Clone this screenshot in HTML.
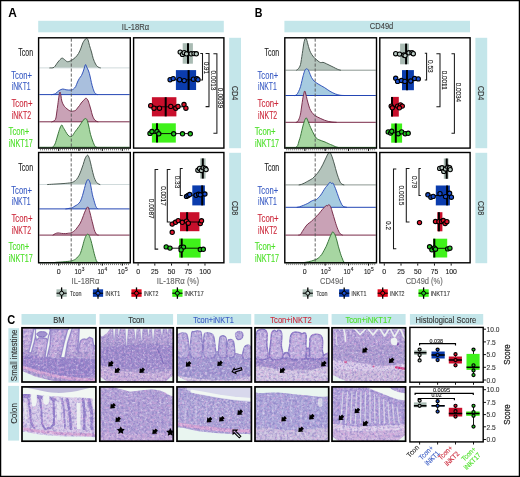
<!DOCTYPE html><html><head><meta charset="utf-8"><style>html,body{margin:0;padding:0;background:#fff;}svg{display:block;will-change:transform;}text{font-family:"Liberation Sans", sans-serif;}</style></head><body>
<svg width="520" height="477" viewBox="0 0 520 477">
<defs></defs>
<rect x="0" y="0" width="520" height="477" fill="#fff"/>
<rect x="38.2" y="20.8" width="185.6" height="11.5" fill="#c4e6ea"/>
<text x="121.8" y="29.5" font-size="8.8" fill="#444" text-anchor="start" font-weight="normal" textLength="27.3" lengthAdjust="spacingAndGlyphs" stroke="#444" stroke-width="0.12">IL-18R&#945;</text>
<text x="8.2" y="17.4" font-size="12.4" fill="#000" text-anchor="start" font-weight="bold" textLength="8.6" lengthAdjust="spacingAndGlyphs">A</text>
<rect x="229.2" y="37.8" width="11.8" height="110.4" fill="#c4e6ea"/>
<text x="235.1" y="93.2" font-size="8.6" fill="#333" text-anchor="middle" textLength="14.3" lengthAdjust="spacingAndGlyphs" transform="rotate(90 235.1 93.2)" dy="3" stroke="#333" stroke-width="0.12">CD4</text>
<text x="18.3" y="56" font-size="10.3" fill="#222" text-anchor="start" font-weight="normal" textLength="14.7" lengthAdjust="spacingAndGlyphs" stroke="#222" stroke-width="0.12">Tcon</text>
<text x="11.3" y="78.7" font-size="10.3" fill="#3a5cc4" text-anchor="start" font-weight="normal" textLength="20.6" lengthAdjust="spacingAndGlyphs" stroke="#3a5cc4" stroke-width="0.12">Tcon+</text>
<text x="11.7" y="90.2" font-size="10.3" fill="#3a5cc4" text-anchor="start" font-weight="normal" textLength="18.9" lengthAdjust="spacingAndGlyphs" stroke="#3a5cc4" stroke-width="0.12">iNKT1</text>
<text x="11.4" y="106.7" font-size="10.3" fill="#cc2a3c" text-anchor="start" font-weight="normal" textLength="21.1" lengthAdjust="spacingAndGlyphs" stroke="#cc2a3c" stroke-width="0.12">Tcon+</text>
<text x="11.8" y="118.7" font-size="10.3" fill="#cc2a3c" text-anchor="start" font-weight="normal" textLength="19.2" lengthAdjust="spacingAndGlyphs" stroke="#cc2a3c" stroke-width="0.12">iNKT2</text>
<text x="8.5" y="135" font-size="10.3" fill="#4ee02a" text-anchor="start" font-weight="normal" textLength="20.9" lengthAdjust="spacingAndGlyphs" stroke="#4ee02a" stroke-width="0.12">Tcon+</text>
<text x="8.7" y="147" font-size="10.3" fill="#4ee02a" text-anchor="start" font-weight="normal" textLength="24" lengthAdjust="spacingAndGlyphs" stroke="#4ee02a" stroke-width="0.12">iNKT17</text>
<rect x="229.2" y="152.8" width="11.8" height="110.4" fill="#c4e6ea"/>
<text x="235.1" y="208.2" font-size="8.6" fill="#333" text-anchor="middle" textLength="14.3" lengthAdjust="spacingAndGlyphs" transform="rotate(90 235.1 208.2)" dy="3" stroke="#333" stroke-width="0.12">CD8</text>
<text x="18.3" y="171" font-size="10.3" fill="#222" text-anchor="start" font-weight="normal" textLength="14.7" lengthAdjust="spacingAndGlyphs" stroke="#222" stroke-width="0.12">Tcon</text>
<text x="11.3" y="193.7" font-size="10.3" fill="#3a5cc4" text-anchor="start" font-weight="normal" textLength="20.6" lengthAdjust="spacingAndGlyphs" stroke="#3a5cc4" stroke-width="0.12">Tcon+</text>
<text x="11.7" y="205.2" font-size="10.3" fill="#3a5cc4" text-anchor="start" font-weight="normal" textLength="18.9" lengthAdjust="spacingAndGlyphs" stroke="#3a5cc4" stroke-width="0.12">iNKT1</text>
<text x="11.4" y="221.7" font-size="10.3" fill="#cc2a3c" text-anchor="start" font-weight="normal" textLength="21.1" lengthAdjust="spacingAndGlyphs" stroke="#cc2a3c" stroke-width="0.12">Tcon+</text>
<text x="11.8" y="233.7" font-size="10.3" fill="#cc2a3c" text-anchor="start" font-weight="normal" textLength="19.2" lengthAdjust="spacingAndGlyphs" stroke="#cc2a3c" stroke-width="0.12">iNKT2</text>
<text x="8.5" y="250" font-size="10.3" fill="#4ee02a" text-anchor="start" font-weight="normal" textLength="20.9" lengthAdjust="spacingAndGlyphs" stroke="#4ee02a" stroke-width="0.12">Tcon+</text>
<text x="8.7" y="262" font-size="10.3" fill="#4ee02a" text-anchor="start" font-weight="normal" textLength="24" lengthAdjust="spacingAndGlyphs" stroke="#4ee02a" stroke-width="0.12">iNKT17</text>
<rect x="284.4" y="20.8" width="185.6" height="11.5" fill="#c4e6ea"/>
<text x="369.8" y="29.4" font-size="8.8" fill="#444" text-anchor="start" font-weight="normal" textLength="23.5" lengthAdjust="spacingAndGlyphs" stroke="#444" stroke-width="0.12">CD49d</text>
<text x="254.7" y="17.4" font-size="12" fill="#000" text-anchor="start" font-weight="bold" textLength="7.7" lengthAdjust="spacingAndGlyphs">B</text>
<rect x="475.4" y="37.8" width="11.8" height="110.4" fill="#c4e6ea"/>
<text x="481.3" y="93.2" font-size="8.6" fill="#333" text-anchor="middle" textLength="14.3" lengthAdjust="spacingAndGlyphs" transform="rotate(90 481.3 93.2)" dy="3" stroke="#333" stroke-width="0.12">CD4</text>
<text x="264.5" y="56" font-size="10.3" fill="#222" text-anchor="start" font-weight="normal" textLength="14.7" lengthAdjust="spacingAndGlyphs" stroke="#222" stroke-width="0.12">Tcon</text>
<text x="257.5" y="78.7" font-size="10.3" fill="#3a5cc4" text-anchor="start" font-weight="normal" textLength="20.6" lengthAdjust="spacingAndGlyphs" stroke="#3a5cc4" stroke-width="0.12">Tcon+</text>
<text x="257.9" y="90.2" font-size="10.3" fill="#3a5cc4" text-anchor="start" font-weight="normal" textLength="18.9" lengthAdjust="spacingAndGlyphs" stroke="#3a5cc4" stroke-width="0.12">iNKT1</text>
<text x="257.6" y="106.7" font-size="10.3" fill="#cc2a3c" text-anchor="start" font-weight="normal" textLength="21.1" lengthAdjust="spacingAndGlyphs" stroke="#cc2a3c" stroke-width="0.12">Tcon+</text>
<text x="258" y="118.7" font-size="10.3" fill="#cc2a3c" text-anchor="start" font-weight="normal" textLength="19.2" lengthAdjust="spacingAndGlyphs" stroke="#cc2a3c" stroke-width="0.12">iNKT2</text>
<text x="254.7" y="135" font-size="10.3" fill="#4ee02a" text-anchor="start" font-weight="normal" textLength="20.9" lengthAdjust="spacingAndGlyphs" stroke="#4ee02a" stroke-width="0.12">Tcon+</text>
<text x="254.9" y="147" font-size="10.3" fill="#4ee02a" text-anchor="start" font-weight="normal" textLength="24" lengthAdjust="spacingAndGlyphs" stroke="#4ee02a" stroke-width="0.12">iNKT17</text>
<rect x="475.4" y="152.8" width="11.8" height="110.4" fill="#c4e6ea"/>
<text x="481.3" y="208.2" font-size="8.6" fill="#333" text-anchor="middle" textLength="14.3" lengthAdjust="spacingAndGlyphs" transform="rotate(90 481.3 208.2)" dy="3" stroke="#333" stroke-width="0.12">CD8</text>
<text x="264.5" y="171" font-size="10.3" fill="#222" text-anchor="start" font-weight="normal" textLength="14.7" lengthAdjust="spacingAndGlyphs" stroke="#222" stroke-width="0.12">Tcon</text>
<text x="257.5" y="193.7" font-size="10.3" fill="#3a5cc4" text-anchor="start" font-weight="normal" textLength="20.6" lengthAdjust="spacingAndGlyphs" stroke="#3a5cc4" stroke-width="0.12">Tcon+</text>
<text x="257.9" y="205.2" font-size="10.3" fill="#3a5cc4" text-anchor="start" font-weight="normal" textLength="18.9" lengthAdjust="spacingAndGlyphs" stroke="#3a5cc4" stroke-width="0.12">iNKT1</text>
<text x="257.6" y="221.7" font-size="10.3" fill="#cc2a3c" text-anchor="start" font-weight="normal" textLength="21.1" lengthAdjust="spacingAndGlyphs" stroke="#cc2a3c" stroke-width="0.12">Tcon+</text>
<text x="258" y="233.7" font-size="10.3" fill="#cc2a3c" text-anchor="start" font-weight="normal" textLength="19.2" lengthAdjust="spacingAndGlyphs" stroke="#cc2a3c" stroke-width="0.12">iNKT2</text>
<text x="254.7" y="250" font-size="10.3" fill="#4ee02a" text-anchor="start" font-weight="normal" textLength="20.9" lengthAdjust="spacingAndGlyphs" stroke="#4ee02a" stroke-width="0.12">Tcon+</text>
<text x="254.9" y="262" font-size="10.3" fill="#4ee02a" text-anchor="start" font-weight="normal" textLength="24" lengthAdjust="spacingAndGlyphs" stroke="#4ee02a" stroke-width="0.12">iNKT17</text>
<path d="M50 67.9 C50 67.9 49.33 68 50 67.9 C50.67 67.8 52.67 68.28 54 67.3 C55.33 66.32 56.7 63.52 58 62 C59.3 60.48 60.72 58.6 61.8 58.2 C62.88 57.8 63.57 59.02 64.5 59.6 C65.43 60.18 66.32 61.53 67.4 61.7 C68.48 61.87 69.73 61.25 71 60.6 C72.27 59.95 73.75 58.98 75 57.8 C76.25 56.62 77.5 55.13 78.5 53.5 C79.5 51.87 80.25 49.83 81 48 C81.75 46.17 82.13 44.1 83 42.5 C83.87 40.9 85.37 38.82 86.2 38.4 C87.03 37.98 87.45 38.82 88 40 C88.55 41.18 88.92 43.5 89.5 45.5 C90.08 47.5 90.88 49.83 91.5 52 C92.12 54.17 92.53 56.5 93.2 58.5 C93.87 60.5 94.73 62.6 95.5 64 C96.27 65.4 96.97 66.25 97.8 66.9 C98.63 67.55 100.05 67.73 100.5 67.9 C100.95 68.07 100.5 67.9 100.5 67.9 L50 67.9 Z" fill="#b4c4bc" stroke="none"/>
<line x1="39.3" y1="67.9" x2="129.6" y2="67.9" stroke="#d0dadb" stroke-width="1"/>
<path d="M50 67.9 C50 67.9 49.33 68 50 67.9 C50.67 67.8 52.67 68.28 54 67.3 C55.33 66.32 56.7 63.52 58 62 C59.3 60.48 60.72 58.6 61.8 58.2 C62.88 57.8 63.57 59.02 64.5 59.6 C65.43 60.18 66.32 61.53 67.4 61.7 C68.48 61.87 69.73 61.25 71 60.6 C72.27 59.95 73.75 58.98 75 57.8 C76.25 56.62 77.5 55.13 78.5 53.5 C79.5 51.87 80.25 49.83 81 48 C81.75 46.17 82.13 44.1 83 42.5 C83.87 40.9 85.37 38.82 86.2 38.4 C87.03 37.98 87.45 38.82 88 40 C88.55 41.18 88.92 43.5 89.5 45.5 C90.08 47.5 90.88 49.83 91.5 52 C92.12 54.17 92.53 56.5 93.2 58.5 C93.87 60.5 94.73 62.6 95.5 64 C96.27 65.4 96.97 66.25 97.8 66.9 C98.63 67.55 100.05 67.73 100.5 67.9 C100.95 68.07 100.5 67.9 100.5 67.9" fill="none" stroke="#3c4c44" stroke-width="0.9" stroke-linejoin="round"/>
<path d="M52 94.6 C52 94.6 51.42 94.77 52 94.6 C52.58 94.43 54.33 94.27 55.5 93.6 C56.67 92.93 57.78 91.37 59 90.6 C60.22 89.83 61.63 89.13 62.8 89 C63.97 88.87 64.63 89.63 66 89.8 C67.37 89.97 69.75 90.13 71 90 C72.25 89.87 72.72 89.58 73.5 89 C74.28 88.42 75.03 87.67 75.7 86.5 C76.37 85.33 76.88 83.35 77.5 82 C78.12 80.65 78.73 79.48 79.4 78.4 C80.07 77.32 80.9 76.57 81.5 75.5 C82.1 74.43 82.53 73.25 83 72 C83.47 70.75 83.88 69.23 84.3 68 C84.72 66.77 85.1 64.77 85.5 64.6 C85.9 64.43 86.18 65.93 86.7 67 C87.22 68.07 88.05 69.5 88.6 71 C89.15 72.5 89.53 74.08 90 76 C90.47 77.92 90.9 80.42 91.4 82.5 C91.9 84.58 92.4 86.72 93 88.5 C93.6 90.28 94.25 92.18 95 93.2 C95.75 94.22 97.08 94.37 97.5 94.6 C97.92 94.83 97.5 94.6 97.5 94.6 L52 94.6 Z" fill="#a9bfdd" stroke="none"/>
<line x1="39.3" y1="94.6" x2="129.6" y2="94.6" stroke="#2446b4" stroke-width="1"/>
<path d="M52 94.6 C52 94.6 51.42 94.77 52 94.6 C52.58 94.43 54.33 94.27 55.5 93.6 C56.67 92.93 57.78 91.37 59 90.6 C60.22 89.83 61.63 89.13 62.8 89 C63.97 88.87 64.63 89.63 66 89.8 C67.37 89.97 69.75 90.13 71 90 C72.25 89.87 72.72 89.58 73.5 89 C74.28 88.42 75.03 87.67 75.7 86.5 C76.37 85.33 76.88 83.35 77.5 82 C78.12 80.65 78.73 79.48 79.4 78.4 C80.07 77.32 80.9 76.57 81.5 75.5 C82.1 74.43 82.53 73.25 83 72 C83.47 70.75 83.88 69.23 84.3 68 C84.72 66.77 85.1 64.77 85.5 64.6 C85.9 64.43 86.18 65.93 86.7 67 C87.22 68.07 88.05 69.5 88.6 71 C89.15 72.5 89.53 74.08 90 76 C90.47 77.92 90.9 80.42 91.4 82.5 C91.9 84.58 92.4 86.72 93 88.5 C93.6 90.28 94.25 92.18 95 93.2 C95.75 94.22 97.08 94.37 97.5 94.6 C97.92 94.83 97.5 94.6 97.5 94.6" fill="none" stroke="#2446b4" stroke-width="0.9" stroke-linejoin="round"/>
<path d="M52 121.8 C52 121.8 51.43 122.18 52 121.8 C52.57 121.42 54.6 121.13 55.4 119.5 C56.2 117.87 56.4 114.45 56.8 112 C57.2 109.55 57.43 107.47 57.8 104.8 C58.17 102.13 58.63 98.13 59 96 C59.37 93.87 59.67 92 60 92 C60.33 92 60.7 94.5 61 96 C61.3 97.5 61.38 99.5 61.8 101 C62.22 102.5 62.88 103.92 63.5 105 C64.12 106.08 64.67 106.67 65.5 107.5 C66.33 108.33 67.58 109.38 68.5 110 C69.42 110.62 70.17 111.03 71 111.2 C71.83 111.37 72.72 111.15 73.5 111 C74.28 110.85 75.03 110.8 75.7 110.3 C76.37 109.8 76.88 108.77 77.5 108 C78.12 107.23 78.78 106.53 79.4 105.7 C80.02 104.87 80.6 103.78 81.2 103 C81.8 102.22 82.23 101.78 83 101 C83.77 100.22 85 98.47 85.8 98.3 C86.6 98.13 87.18 98.92 87.8 100 C88.42 101.08 88.97 103.13 89.5 104.8 C90.03 106.47 90.53 108.3 91 110 C91.47 111.7 91.8 113.5 92.3 115 C92.8 116.5 93.38 118 94 119 C94.62 120 95.33 120.53 96 121 C96.67 121.47 97.67 121.67 98 121.8 C98.33 121.93 98 121.8 98 121.8 L52 121.8 Z" fill="#c9a2b6" stroke="none"/>
<line x1="39.3" y1="121.8" x2="129.6" y2="121.8" stroke="#7a2a48" stroke-width="1"/>
<path d="M52 121.8 C52 121.8 51.43 122.18 52 121.8 C52.57 121.42 54.6 121.13 55.4 119.5 C56.2 117.87 56.4 114.45 56.8 112 C57.2 109.55 57.43 107.47 57.8 104.8 C58.17 102.13 58.63 98.13 59 96 C59.37 93.87 59.67 92 60 92 C60.33 92 60.7 94.5 61 96 C61.3 97.5 61.38 99.5 61.8 101 C62.22 102.5 62.88 103.92 63.5 105 C64.12 106.08 64.67 106.67 65.5 107.5 C66.33 108.33 67.58 109.38 68.5 110 C69.42 110.62 70.17 111.03 71 111.2 C71.83 111.37 72.72 111.15 73.5 111 C74.28 110.85 75.03 110.8 75.7 110.3 C76.37 109.8 76.88 108.77 77.5 108 C78.12 107.23 78.78 106.53 79.4 105.7 C80.02 104.87 80.6 103.78 81.2 103 C81.8 102.22 82.23 101.78 83 101 C83.77 100.22 85 98.47 85.8 98.3 C86.6 98.13 87.18 98.92 87.8 100 C88.42 101.08 88.97 103.13 89.5 104.8 C90.03 106.47 90.53 108.3 91 110 C91.47 111.7 91.8 113.5 92.3 115 C92.8 116.5 93.38 118 94 119 C94.62 120 95.33 120.53 96 121 C96.67 121.47 97.67 121.67 98 121.8 C98.33 121.93 98 121.8 98 121.8" fill="none" stroke="#6e1f3e" stroke-width="0.9" stroke-linejoin="round"/>
<path d="M52.5 147.3 C52.5 147.3 52.08 147.85 52.5 147.3 C52.92 146.75 54.17 145.88 55 144 C55.83 142.12 56.67 138.67 57.5 136 C58.33 133.33 59.28 129.83 60 128 C60.72 126.17 61.27 125.08 61.8 125 C62.33 124.92 62.73 126.72 63.2 127.5 C63.67 128.28 64 128.7 64.6 129.7 C65.2 130.7 66.03 132.42 66.8 133.5 C67.57 134.58 68.33 135.75 69.2 136.2 C70.07 136.65 71.12 136.82 72 136.2 C72.88 135.58 73.73 133.58 74.5 132.5 C75.27 131.42 75.85 130.7 76.6 129.7 C77.35 128.7 78.23 127.58 79 126.5 C79.77 125.42 80.45 124.28 81.2 123.2 C81.95 122.12 82.87 120.77 83.5 120 C84.13 119.23 84.45 118.68 85 118.6 C85.55 118.52 86.22 118.43 86.8 119.5 C87.38 120.57 87.88 122.53 88.5 125 C89.12 127.47 89.8 131.63 90.5 134.3 C91.2 136.97 91.95 139 92.7 141 C93.45 143 94.28 145.25 95 146.3 C95.72 147.35 96.67 147.13 97 147.3 C97.33 147.47 97 147.3 97 147.3 L52.5 147.3 Z" fill="#a7d6a2" stroke="none"/>
<line x1="39.3" y1="147.3" x2="129.6" y2="147.3" stroke="#2b6a2c" stroke-width="1"/>
<path d="M52.5 147.3 C52.5 147.3 52.08 147.85 52.5 147.3 C52.92 146.75 54.17 145.88 55 144 C55.83 142.12 56.67 138.67 57.5 136 C58.33 133.33 59.28 129.83 60 128 C60.72 126.17 61.27 125.08 61.8 125 C62.33 124.92 62.73 126.72 63.2 127.5 C63.67 128.28 64 128.7 64.6 129.7 C65.2 130.7 66.03 132.42 66.8 133.5 C67.57 134.58 68.33 135.75 69.2 136.2 C70.07 136.65 71.12 136.82 72 136.2 C72.88 135.58 73.73 133.58 74.5 132.5 C75.27 131.42 75.85 130.7 76.6 129.7 C77.35 128.7 78.23 127.58 79 126.5 C79.77 125.42 80.45 124.28 81.2 123.2 C81.95 122.12 82.87 120.77 83.5 120 C84.13 119.23 84.45 118.68 85 118.6 C85.55 118.52 86.22 118.43 86.8 119.5 C87.38 120.57 87.88 122.53 88.5 125 C89.12 127.47 89.8 131.63 90.5 134.3 C91.2 136.97 91.95 139 92.7 141 C93.45 143 94.28 145.25 95 146.3 C95.72 147.35 96.67 147.13 97 147.3 C97.33 147.47 97 147.3 97 147.3" fill="none" stroke="#2b6a2c" stroke-width="0.9" stroke-linejoin="round"/>
<line x1="71.3" y1="38.5" x2="71.3" y2="147.5" stroke="#555" stroke-width="0.9" stroke-dasharray="3.2 1.8"/>
<rect x="38.6" y="37.8" width="91.7" height="110.3" fill="none" stroke="#000" stroke-width="1.4"/>
<path d="M40.5 148.8v1.6M42.5 148.8v1.6M44.5 148.8v1.6M46.5 148.8v1.6M48.5 148.8v1.6M50.5 148.8v1.6M52.5 148.8v1.6M54.5 148.8v1.6M56.5 148.8v1.6M58.5 148.8v1.6M60.5 148.8v1.6M62.5 148.8v1.6M64.5 148.8v1.6M66.5 148.8v1.6M68.5 148.8v1.6M70.5 148.8v1.6M72.5 148.8v1.6M74.5 148.8v1.6M76.5 148.8v1.6M78.5 148.8v1.6M80.5 148.8v1.6M82.5 148.8v1.6M84.5 148.8v1.6M86.5 148.8v1.6M88.5 148.8v1.6M90.5 148.8v1.6M92.5 148.8v1.6M94.5 148.8v1.6M96.5 148.8v1.6M98.5 148.8v1.6M100.5 148.8v1.6M102.5 148.8v1.6M104.5 148.8v1.6M106.5 148.8v1.6M108.5 148.8v1.6M110.5 148.8v1.6M112.5 148.8v1.6M114.5 148.8v1.6M116.5 148.8v1.6M118.5 148.8v1.6M120.5 148.8v1.6M122.5 148.8v1.6M124.5 148.8v1.6M126.5 148.8v1.6M128.5 148.8v1.6" stroke="#333" stroke-width="0.6"/>
<line x1="58.7" y1="148.8" x2="58.7" y2="151" stroke="#000" stroke-width="0.9"/>
<line x1="79" y1="148.8" x2="79" y2="151" stroke="#000" stroke-width="0.9"/>
<line x1="102.3" y1="148.8" x2="102.3" y2="151" stroke="#000" stroke-width="0.9"/>
<line x1="122.3" y1="148.8" x2="122.3" y2="151" stroke="#000" stroke-width="0.9"/>
<path d="M48 184.5 C48 184.5 46.67 184.58 48 184.5 C49.33 184.42 53.33 184.17 56 184 C58.67 183.83 61.5 183.72 64 183.5 C66.5 183.28 69.33 183.03 71 182.7 C72.67 182.37 73.07 182.05 74 181.5 C74.93 180.95 75.77 180.4 76.6 179.4 C77.43 178.4 78.23 177.03 79 175.5 C79.77 173.97 80.5 172.03 81.2 170.2 C81.9 168.37 82.58 166.37 83.2 164.5 C83.82 162.63 84.35 160.42 84.9 159 C85.45 157.58 85.98 156.6 86.5 156 C87.02 155.4 87.47 154.82 88 155.4 C88.53 155.98 89.13 157.65 89.7 159.5 C90.27 161.35 90.88 164.33 91.4 166.5 C91.92 168.67 92.33 170.67 92.8 172.5 C93.27 174.33 93.67 176 94.2 177.5 C94.73 179 95.4 180.48 96 181.5 C96.6 182.52 97.13 183.1 97.8 183.6 C98.47 184.1 99.63 184.35 100 184.5 C100.37 184.65 100 184.5 100 184.5 L48 184.5 Z" fill="#b4c4bc" stroke="none"/>
<line x1="39.3" y1="184.5" x2="129.6" y2="184.5" stroke="#d0dadb" stroke-width="1"/>
<path d="M48 184.5 C48 184.5 46.67 184.58 48 184.5 C49.33 184.42 53.33 184.17 56 184 C58.67 183.83 61.5 183.72 64 183.5 C66.5 183.28 69.33 183.03 71 182.7 C72.67 182.37 73.07 182.05 74 181.5 C74.93 180.95 75.77 180.4 76.6 179.4 C77.43 178.4 78.23 177.03 79 175.5 C79.77 173.97 80.5 172.03 81.2 170.2 C81.9 168.37 82.58 166.37 83.2 164.5 C83.82 162.63 84.35 160.42 84.9 159 C85.45 157.58 85.98 156.6 86.5 156 C87.02 155.4 87.47 154.82 88 155.4 C88.53 155.98 89.13 157.65 89.7 159.5 C90.27 161.35 90.88 164.33 91.4 166.5 C91.92 168.67 92.33 170.67 92.8 172.5 C93.27 174.33 93.67 176 94.2 177.5 C94.73 179 95.4 180.48 96 181.5 C96.6 182.52 97.13 183.1 97.8 183.6 C98.47 184.1 99.63 184.35 100 184.5 C100.37 184.65 100 184.5 100 184.5" fill="none" stroke="#3c4c44" stroke-width="0.9" stroke-linejoin="round"/>
<path d="M66 208.9 C66 208.9 65.33 209.02 66 208.9 C66.67 208.78 68.92 208.43 70 208.2 C71.08 207.97 71.67 207.87 72.5 207.5 C73.33 207.13 74.17 206.5 75 206 C75.83 205.5 76.62 205.25 77.5 204.5 C78.38 203.75 79.47 203 80.3 201.5 C81.13 200 81.82 197.65 82.5 195.5 C83.18 193.35 83.82 190.68 84.4 188.6 C84.98 186.52 85.4 184.53 86 183 C86.6 181.47 87.35 179.53 88 179.4 C88.65 179.27 89.4 180.93 89.9 182.2 C90.4 183.47 90.6 185 91 187 C91.4 189 91.8 191.95 92.3 194.2 C92.8 196.45 93.38 198.42 94 200.5 C94.62 202.58 95.33 205.3 96 206.7 C96.67 208.1 97.67 208.53 98 208.9 C98.33 209.27 98 208.9 98 208.9 L66 208.9 Z" fill="#a9bfdd" stroke="none"/>
<line x1="39.3" y1="208.9" x2="129.6" y2="208.9" stroke="#2446b4" stroke-width="1"/>
<path d="M66 208.9 C66 208.9 65.33 209.02 66 208.9 C66.67 208.78 68.92 208.43 70 208.2 C71.08 207.97 71.67 207.87 72.5 207.5 C73.33 207.13 74.17 206.5 75 206 C75.83 205.5 76.62 205.25 77.5 204.5 C78.38 203.75 79.47 203 80.3 201.5 C81.13 200 81.82 197.65 82.5 195.5 C83.18 193.35 83.82 190.68 84.4 188.6 C84.98 186.52 85.4 184.53 86 183 C86.6 181.47 87.35 179.53 88 179.4 C88.65 179.27 89.4 180.93 89.9 182.2 C90.4 183.47 90.6 185 91 187 C91.4 189 91.8 191.95 92.3 194.2 C92.8 196.45 93.38 198.42 94 200.5 C94.62 202.58 95.33 205.3 96 206.7 C96.67 208.1 97.67 208.53 98 208.9 C98.33 209.27 98 208.9 98 208.9" fill="none" stroke="#2446b4" stroke-width="0.9" stroke-linejoin="round"/>
<path d="M53 235.1 C53 235.1 52.6 235.35 53 235.1 C53.4 234.85 54.53 233.97 55.4 233.6 C56.27 233.23 57.18 232.93 58.2 232.9 C59.22 232.87 60.28 233.28 61.5 233.4 C62.72 233.52 64.33 233.63 65.5 233.6 C66.67 233.57 67.58 233.32 68.5 233.2 C69.42 233.08 70.17 233.18 71 232.9 C71.83 232.62 72.72 232.07 73.5 231.5 C74.28 230.93 74.95 230.33 75.7 229.5 C76.45 228.67 77.23 227.57 78 226.5 C78.77 225.43 79.55 224.52 80.3 223.1 C81.05 221.68 81.82 219.7 82.5 218 C83.18 216.3 83.78 214.4 84.4 212.9 C85.02 211.4 85.6 209.98 86.2 209 C86.8 208.02 87.4 206.5 88 207 C88.6 207.5 89.23 210.08 89.8 212 C90.37 213.92 90.9 216.5 91.4 218.5 C91.9 220.5 92.33 222.17 92.8 224 C93.27 225.83 93.73 228 94.2 229.5 C94.67 231 95.13 232.13 95.6 233 C96.07 233.87 96.52 234.35 97 234.7 C97.48 235.05 98.25 235.03 98.5 235.1 C98.75 235.17 98.5 235.1 98.5 235.1 L53 235.1 Z" fill="#c9a2b6" stroke="none"/>
<line x1="39.3" y1="235.1" x2="129.6" y2="235.1" stroke="#7a2a48" stroke-width="1"/>
<path d="M53 235.1 C53 235.1 52.6 235.35 53 235.1 C53.4 234.85 54.53 233.97 55.4 233.6 C56.27 233.23 57.18 232.93 58.2 232.9 C59.22 232.87 60.28 233.28 61.5 233.4 C62.72 233.52 64.33 233.63 65.5 233.6 C66.67 233.57 67.58 233.32 68.5 233.2 C69.42 233.08 70.17 233.18 71 232.9 C71.83 232.62 72.72 232.07 73.5 231.5 C74.28 230.93 74.95 230.33 75.7 229.5 C76.45 228.67 77.23 227.57 78 226.5 C78.77 225.43 79.55 224.52 80.3 223.1 C81.05 221.68 81.82 219.7 82.5 218 C83.18 216.3 83.78 214.4 84.4 212.9 C85.02 211.4 85.6 209.98 86.2 209 C86.8 208.02 87.4 206.5 88 207 C88.6 207.5 89.23 210.08 89.8 212 C90.37 213.92 90.9 216.5 91.4 218.5 C91.9 220.5 92.33 222.17 92.8 224 C93.27 225.83 93.73 228 94.2 229.5 C94.67 231 95.13 232.13 95.6 233 C96.07 233.87 96.52 234.35 97 234.7 C97.48 235.05 98.25 235.03 98.5 235.1 C98.75 235.17 98.5 235.1 98.5 235.1" fill="none" stroke="#6e1f3e" stroke-width="0.9" stroke-linejoin="round"/>
<path d="M54 262.6 C54 262.6 53.47 262.67 54 262.6 C54.53 262.53 55.53 262.33 57.2 262.2 C58.87 262.07 61.7 262 64 261.8 C66.3 261.6 69.42 261.27 71 261 C72.58 260.73 72.72 260.53 73.5 260.2 C74.28 259.87 74.95 259.58 75.7 259 C76.45 258.42 77.23 257.62 78 256.7 C78.77 255.78 79.57 255.12 80.3 253.5 C81.03 251.88 81.72 249.3 82.4 247 C83.08 244.7 83.77 241.62 84.4 239.7 C85.03 237.78 85.6 236.42 86.2 235.5 C86.8 234.58 87.43 234.03 88 234.2 C88.57 234.37 89.1 235.43 89.6 236.5 C90.1 237.57 90.5 238.85 91 240.6 C91.5 242.35 92.07 244.85 92.6 247 C93.13 249.15 93.7 251.58 94.2 253.5 C94.7 255.42 95.15 257.12 95.6 258.5 C96.05 259.88 96.42 261.12 96.9 261.8 C97.38 262.48 98.23 262.47 98.5 262.6 C98.77 262.73 98.5 262.6 98.5 262.6 L54 262.6 Z" fill="#a7d6a2" stroke="none"/>
<line x1="39.3" y1="262.6" x2="129.6" y2="262.6" stroke="#2b6a2c" stroke-width="1"/>
<path d="M54 262.6 C54 262.6 53.47 262.67 54 262.6 C54.53 262.53 55.53 262.33 57.2 262.2 C58.87 262.07 61.7 262 64 261.8 C66.3 261.6 69.42 261.27 71 261 C72.58 260.73 72.72 260.53 73.5 260.2 C74.28 259.87 74.95 259.58 75.7 259 C76.45 258.42 77.23 257.62 78 256.7 C78.77 255.78 79.57 255.12 80.3 253.5 C81.03 251.88 81.72 249.3 82.4 247 C83.08 244.7 83.77 241.62 84.4 239.7 C85.03 237.78 85.6 236.42 86.2 235.5 C86.8 234.58 87.43 234.03 88 234.2 C88.57 234.37 89.1 235.43 89.6 236.5 C90.1 237.57 90.5 238.85 91 240.6 C91.5 242.35 92.07 244.85 92.6 247 C93.13 249.15 93.7 251.58 94.2 253.5 C94.7 255.42 95.15 257.12 95.6 258.5 C96.05 259.88 96.42 261.12 96.9 261.8 C97.38 262.48 98.23 262.47 98.5 262.6 C98.77 262.73 98.5 262.6 98.5 262.6" fill="none" stroke="#2b6a2c" stroke-width="0.9" stroke-linejoin="round"/>
<line x1="71.2" y1="153.3" x2="71.2" y2="262.8" stroke="#555" stroke-width="0.9" stroke-dasharray="3.2 1.8"/>
<rect x="38.6" y="152.5" width="91.7" height="110.3" fill="none" stroke="#000" stroke-width="1.4"/>
<path d="M40.5 263.5v1.6M42.5 263.5v1.6M44.5 263.5v1.6M46.5 263.5v1.6M48.5 263.5v1.6M50.5 263.5v1.6M52.5 263.5v1.6M54.5 263.5v1.6M56.5 263.5v1.6M58.5 263.5v1.6M60.5 263.5v1.6M62.5 263.5v1.6M64.5 263.5v1.6M66.5 263.5v1.6M68.5 263.5v1.6M70.5 263.5v1.6M72.5 263.5v1.6M74.5 263.5v1.6M76.5 263.5v1.6M78.5 263.5v1.6M80.5 263.5v1.6M82.5 263.5v1.6M84.5 263.5v1.6M86.5 263.5v1.6M88.5 263.5v1.6M90.5 263.5v1.6M92.5 263.5v1.6M94.5 263.5v1.6M96.5 263.5v1.6M98.5 263.5v1.6M100.5 263.5v1.6M102.5 263.5v1.6M104.5 263.5v1.6M106.5 263.5v1.6M108.5 263.5v1.6M110.5 263.5v1.6M112.5 263.5v1.6M114.5 263.5v1.6M116.5 263.5v1.6M118.5 263.5v1.6M120.5 263.5v1.6M122.5 263.5v1.6M124.5 263.5v1.6M126.5 263.5v1.6M128.5 263.5v1.6" stroke="#333" stroke-width="0.6"/>
<line x1="58.7" y1="263.5" x2="58.7" y2="265.7" stroke="#000" stroke-width="0.9"/>
<line x1="79" y1="263.5" x2="79" y2="265.7" stroke="#000" stroke-width="0.9"/>
<line x1="102.3" y1="263.5" x2="102.3" y2="265.7" stroke="#000" stroke-width="0.9"/>
<line x1="122.3" y1="263.5" x2="122.3" y2="265.7" stroke="#000" stroke-width="0.9"/>
<path d="M296.5 70.2 C296.5 70.2 296.17 70.48 296.5 70.2 C296.83 69.92 297.83 69.45 298.5 68.5 C299.17 67.55 299.87 67 300.5 64.5 C301.13 62 301.68 57.33 302.3 53.5 C302.92 49.67 303.58 44.03 304.2 41.5 C304.82 38.97 305.4 37.88 306 38.3 C306.6 38.72 307.27 42.22 307.8 44 C308.33 45.78 308.73 47.58 309.2 49 C309.67 50.42 310 51.33 310.6 52.5 C311.2 53.67 312.03 54.98 312.8 56 C313.57 57.02 314.33 57.77 315.2 58.6 C316.07 59.43 317.07 60.32 318 61 C318.93 61.68 319.97 62.48 320.8 62.7 C321.63 62.92 322.05 62.12 323 62.3 C323.95 62.48 325.33 63.27 326.5 63.8 C327.67 64.33 328.8 64.92 330 65.5 C331.2 66.08 332.47 66.68 333.7 67.3 C334.93 67.92 336.27 68.72 337.4 69.2 C338.53 69.68 339.98 70.03 340.5 70.2 C341.02 70.37 340.5 70.2 340.5 70.2 L296.5 70.2 Z" fill="#b4c4bc" stroke="none"/>
<line x1="285.5" y1="70.2" x2="375.8" y2="70.2" stroke="#8c9792" stroke-width="1"/>
<path d="M296.5 70.2 C296.5 70.2 296.17 70.48 296.5 70.2 C296.83 69.92 297.83 69.45 298.5 68.5 C299.17 67.55 299.87 67 300.5 64.5 C301.13 62 301.68 57.33 302.3 53.5 C302.92 49.67 303.58 44.03 304.2 41.5 C304.82 38.97 305.4 37.88 306 38.3 C306.6 38.72 307.27 42.22 307.8 44 C308.33 45.78 308.73 47.58 309.2 49 C309.67 50.42 310 51.33 310.6 52.5 C311.2 53.67 312.03 54.98 312.8 56 C313.57 57.02 314.33 57.77 315.2 58.6 C316.07 59.43 317.07 60.32 318 61 C318.93 61.68 319.97 62.48 320.8 62.7 C321.63 62.92 322.05 62.12 323 62.3 C323.95 62.48 325.33 63.27 326.5 63.8 C327.67 64.33 328.8 64.92 330 65.5 C331.2 66.08 332.47 66.68 333.7 67.3 C334.93 67.92 336.27 68.72 337.4 69.2 C338.53 69.68 339.98 70.03 340.5 70.2 C341.02 70.37 340.5 70.2 340.5 70.2" fill="none" stroke="#3c4c44" stroke-width="0.9" stroke-linejoin="round"/>
<path d="M295 95.5 C295 95.5 294.7 95.67 295 95.5 C295.3 95.33 296.2 95.17 296.8 94.5 C297.4 93.83 297.98 92.8 298.6 91.5 C299.22 90.2 299.93 88.53 300.5 86.7 C301.07 84.87 301.55 82.35 302 80.5 C302.45 78.65 302.7 77.33 303.2 75.6 C303.7 73.87 304.37 71.23 305 70.1 C305.63 68.97 306.37 68.65 307 68.8 C307.63 68.95 308.27 70.05 308.8 71 C309.33 71.95 309.75 73.42 310.2 74.5 C310.65 75.58 311 76.58 311.5 77.5 C312 78.42 312.58 79.25 313.2 80 C313.82 80.75 314.23 81.25 315.2 82 C316.17 82.75 317.45 83.57 319 84.5 C320.55 85.43 322.67 86.47 324.5 87.6 C326.33 88.73 328.17 90.23 330 91.3 C331.83 92.37 333.83 93.35 335.5 94 C337.17 94.65 338.58 94.95 340 95.2 C341.42 95.45 343.33 95.45 344 95.5 C344.67 95.55 344 95.5 344 95.5 L295 95.5 Z" fill="#a6cbe0" stroke="none"/>
<line x1="285.5" y1="95.5" x2="375.8" y2="95.5" stroke="#2446b4" stroke-width="1"/>
<path d="M295 95.5 C295 95.5 294.7 95.67 295 95.5 C295.3 95.33 296.2 95.17 296.8 94.5 C297.4 93.83 297.98 92.8 298.6 91.5 C299.22 90.2 299.93 88.53 300.5 86.7 C301.07 84.87 301.55 82.35 302 80.5 C302.45 78.65 302.7 77.33 303.2 75.6 C303.7 73.87 304.37 71.23 305 70.1 C305.63 68.97 306.37 68.65 307 68.8 C307.63 68.95 308.27 70.05 308.8 71 C309.33 71.95 309.75 73.42 310.2 74.5 C310.65 75.58 311 76.58 311.5 77.5 C312 78.42 312.58 79.25 313.2 80 C313.82 80.75 314.23 81.25 315.2 82 C316.17 82.75 317.45 83.57 319 84.5 C320.55 85.43 322.67 86.47 324.5 87.6 C326.33 88.73 328.17 90.23 330 91.3 C331.83 92.37 333.83 93.35 335.5 94 C337.17 94.65 338.58 94.95 340 95.2 C341.42 95.45 343.33 95.45 344 95.5 C344.67 95.55 344 95.5 344 95.5" fill="none" stroke="#2446b4" stroke-width="0.9" stroke-linejoin="round"/>
<path d="M296 122.3 C296 122.3 295.72 122.43 296 122.3 C296.28 122.17 297.17 122.13 297.7 121.5 C298.23 120.87 298.73 119.75 299.2 118.5 C299.67 117.25 300.08 116.08 300.5 114 C300.92 111.92 301.33 108.47 301.7 106 C302.07 103.53 302.35 101.28 302.7 99.2 C303.05 97.12 303.47 94.87 303.8 93.5 C304.13 92.13 304.37 90.92 304.7 91 C305.03 91.08 305.42 92.63 305.8 94 C306.18 95.37 306.58 97.53 307 99.2 C307.42 100.87 307.85 102.45 308.3 104 C308.75 105.55 309.12 107.12 309.7 108.5 C310.28 109.88 311.03 111.22 311.8 112.3 C312.57 113.38 313.35 114.22 314.3 115 C315.25 115.78 316.42 116.4 317.5 117 C318.58 117.6 319.63 118.07 320.8 118.6 C321.97 119.13 323.27 119.73 324.5 120.2 C325.73 120.67 326.95 121.1 328.2 121.4 C329.45 121.7 330.7 121.85 332 122 C333.3 122.15 335.33 122.25 336 122.3 C336.67 122.35 336 122.3 336 122.3 L296 122.3 Z" fill="#c9a2b6" stroke="none"/>
<line x1="285.5" y1="122.3" x2="375.8" y2="122.3" stroke="#7a2a48" stroke-width="1"/>
<path d="M296 122.3 C296 122.3 295.72 122.43 296 122.3 C296.28 122.17 297.17 122.13 297.7 121.5 C298.23 120.87 298.73 119.75 299.2 118.5 C299.67 117.25 300.08 116.08 300.5 114 C300.92 111.92 301.33 108.47 301.7 106 C302.07 103.53 302.35 101.28 302.7 99.2 C303.05 97.12 303.47 94.87 303.8 93.5 C304.13 92.13 304.37 90.92 304.7 91 C305.03 91.08 305.42 92.63 305.8 94 C306.18 95.37 306.58 97.53 307 99.2 C307.42 100.87 307.85 102.45 308.3 104 C308.75 105.55 309.12 107.12 309.7 108.5 C310.28 109.88 311.03 111.22 311.8 112.3 C312.57 113.38 313.35 114.22 314.3 115 C315.25 115.78 316.42 116.4 317.5 117 C318.58 117.6 319.63 118.07 320.8 118.6 C321.97 119.13 323.27 119.73 324.5 120.2 C325.73 120.67 326.95 121.1 328.2 121.4 C329.45 121.7 330.7 121.85 332 122 C333.3 122.15 335.33 122.25 336 122.3 C336.67 122.35 336 122.3 336 122.3" fill="none" stroke="#6e1f3e" stroke-width="0.9" stroke-linejoin="round"/>
<path d="M296 147.4 C296 147.4 295.72 147.72 296 147.4 C296.28 147.08 297.2 146.57 297.7 145.5 C298.2 144.43 298.53 142.55 299 141 C299.47 139.45 300.03 137.95 300.5 136.2 C300.97 134.45 301.35 132.37 301.8 130.5 C302.25 128.63 302.67 126.83 303.2 125 C303.73 123.17 304.45 120.67 305 119.5 C305.55 118.33 305.87 117.38 306.5 118 C307.13 118.62 308.12 121.62 308.8 123.2 C309.48 124.78 309.98 126.12 310.6 127.5 C311.22 128.88 311.88 130.25 312.5 131.5 C313.12 132.75 313.68 133.92 314.3 135 C314.92 136.08 315.45 137.22 316.2 138 C316.95 138.78 317.88 139.23 318.8 139.7 C319.72 140.17 320.67 140.42 321.7 140.8 C322.73 141.18 323.92 141.55 325 142 C326.08 142.45 327.28 143.08 328.2 143.5 C329.12 143.92 329.73 144.18 330.5 144.5 C331.27 144.82 332.05 145.07 332.8 145.4 C333.55 145.73 334.13 146.17 335 146.5 C335.87 146.83 337.5 147.25 338 147.4 C338.5 147.55 338 147.4 338 147.4 L296 147.4 Z" fill="#a7d6a2" stroke="none"/>
<line x1="285.5" y1="147.4" x2="375.8" y2="147.4" stroke="#2b6a2c" stroke-width="1"/>
<path d="M296 147.4 C296 147.4 295.72 147.72 296 147.4 C296.28 147.08 297.2 146.57 297.7 145.5 C298.2 144.43 298.53 142.55 299 141 C299.47 139.45 300.03 137.95 300.5 136.2 C300.97 134.45 301.35 132.37 301.8 130.5 C302.25 128.63 302.67 126.83 303.2 125 C303.73 123.17 304.45 120.67 305 119.5 C305.55 118.33 305.87 117.38 306.5 118 C307.13 118.62 308.12 121.62 308.8 123.2 C309.48 124.78 309.98 126.12 310.6 127.5 C311.22 128.88 311.88 130.25 312.5 131.5 C313.12 132.75 313.68 133.92 314.3 135 C314.92 136.08 315.45 137.22 316.2 138 C316.95 138.78 317.88 139.23 318.8 139.7 C319.72 140.17 320.67 140.42 321.7 140.8 C322.73 141.18 323.92 141.55 325 142 C326.08 142.45 327.28 143.08 328.2 143.5 C329.12 143.92 329.73 144.18 330.5 144.5 C331.27 144.82 332.05 145.07 332.8 145.4 C333.55 145.73 334.13 146.17 335 146.5 C335.87 146.83 337.5 147.25 338 147.4 C338.5 147.55 338 147.4 338 147.4" fill="none" stroke="#2b6a2c" stroke-width="0.9" stroke-linejoin="round"/>
<line x1="315.2" y1="38.5" x2="315.2" y2="147.5" stroke="#555" stroke-width="0.9" stroke-dasharray="3.2 1.8"/>
<rect x="284.8" y="37.8" width="91.7" height="110.3" fill="none" stroke="#000" stroke-width="1.4"/>
<path d="M286.7 148.8v1.6M288.7 148.8v1.6M290.7 148.8v1.6M292.7 148.8v1.6M294.7 148.8v1.6M296.7 148.8v1.6M298.7 148.8v1.6M300.7 148.8v1.6M302.7 148.8v1.6M304.7 148.8v1.6M306.7 148.8v1.6M308.7 148.8v1.6M310.7 148.8v1.6M312.7 148.8v1.6M314.7 148.8v1.6M316.7 148.8v1.6M318.7 148.8v1.6M320.7 148.8v1.6M322.7 148.8v1.6M324.7 148.8v1.6M326.7 148.8v1.6M328.7 148.8v1.6M330.7 148.8v1.6M332.7 148.8v1.6M334.7 148.8v1.6M336.7 148.8v1.6M338.7 148.8v1.6M340.7 148.8v1.6M342.7 148.8v1.6M344.7 148.8v1.6M346.7 148.8v1.6M348.7 148.8v1.6M350.7 148.8v1.6M352.7 148.8v1.6M354.7 148.8v1.6M356.7 148.8v1.6M358.7 148.8v1.6M360.7 148.8v1.6M362.7 148.8v1.6M364.7 148.8v1.6M366.7 148.8v1.6M368.7 148.8v1.6M370.7 148.8v1.6M372.7 148.8v1.6M374.7 148.8v1.6" stroke="#333" stroke-width="0.6"/>
<line x1="304.9" y1="148.8" x2="304.9" y2="151" stroke="#000" stroke-width="0.9"/>
<line x1="325.2" y1="148.8" x2="325.2" y2="151" stroke="#000" stroke-width="0.9"/>
<line x1="348.5" y1="148.8" x2="348.5" y2="151" stroke="#000" stroke-width="0.9"/>
<line x1="368.5" y1="148.8" x2="368.5" y2="151" stroke="#000" stroke-width="0.9"/>
<path d="M299 184.9 C299 184.9 298.6 184.98 299 184.9 C299.4 184.82 300.48 184.72 301.4 184.4 C302.32 184.08 303.43 183.53 304.5 183 C305.57 182.47 306.88 181.7 307.8 181.2 C308.72 180.7 309.22 180.45 310 180 C310.78 179.55 311.78 179.03 312.5 178.5 C313.22 177.97 313.68 177.42 314.3 176.8 C314.92 176.18 315.5 175.63 316.2 174.8 C316.9 173.97 317.73 172.88 318.5 171.8 C319.27 170.72 320.1 169.47 320.8 168.3 C321.5 167.13 322.08 166.02 322.7 164.8 C323.32 163.58 323.88 162.3 324.5 161 C325.12 159.7 325.78 158.25 326.4 157 C327.02 155.75 327.6 154.23 328.2 153.5 C328.8 152.77 329.47 152.35 330 152.6 C330.53 152.85 330.93 153.93 331.4 155 C331.87 156.07 332.27 157.33 332.8 159 C333.33 160.67 333.98 162.83 334.6 165 C335.22 167.17 335.88 169.92 336.5 172 C337.12 174.08 337.68 175.8 338.3 177.5 C338.92 179.2 339.58 181.08 340.2 182.2 C340.82 183.32 341.37 183.75 342 184.2 C342.63 184.65 343.67 184.78 344 184.9 C344.33 185.02 344 184.9 344 184.9 L299 184.9 Z" fill="#b4c4bc" stroke="none"/>
<line x1="285.5" y1="184.9" x2="375.8" y2="184.9" stroke="#8c9792" stroke-width="1"/>
<path d="M299 184.9 C299 184.9 298.6 184.98 299 184.9 C299.4 184.82 300.48 184.72 301.4 184.4 C302.32 184.08 303.43 183.53 304.5 183 C305.57 182.47 306.88 181.7 307.8 181.2 C308.72 180.7 309.22 180.45 310 180 C310.78 179.55 311.78 179.03 312.5 178.5 C313.22 177.97 313.68 177.42 314.3 176.8 C314.92 176.18 315.5 175.63 316.2 174.8 C316.9 173.97 317.73 172.88 318.5 171.8 C319.27 170.72 320.1 169.47 320.8 168.3 C321.5 167.13 322.08 166.02 322.7 164.8 C323.32 163.58 323.88 162.3 324.5 161 C325.12 159.7 325.78 158.25 326.4 157 C327.02 155.75 327.6 154.23 328.2 153.5 C328.8 152.77 329.47 152.35 330 152.6 C330.53 152.85 330.93 153.93 331.4 155 C331.87 156.07 332.27 157.33 332.8 159 C333.33 160.67 333.98 162.83 334.6 165 C335.22 167.17 335.88 169.92 336.5 172 C337.12 174.08 337.68 175.8 338.3 177.5 C338.92 179.2 339.58 181.08 340.2 182.2 C340.82 183.32 341.37 183.75 342 184.2 C342.63 184.65 343.67 184.78 344 184.9 C344.33 185.02 344 184.9 344 184.9" fill="none" stroke="#3c4c44" stroke-width="0.9" stroke-linejoin="round"/>
<path d="M297 207.3 C297 207.3 296.58 207.38 297 207.3 C297.42 207.22 298.42 207.13 299.5 206.8 C300.58 206.47 302.12 205.87 303.5 205.3 C304.88 204.73 306.72 203.95 307.8 203.4 C308.88 202.85 309.22 202.47 310 202 C310.78 201.53 311.77 200.93 312.5 200.6 C313.23 200.27 313.78 200.15 314.4 200 C315.02 199.85 315.52 200.12 316.2 199.7 C316.88 199.28 317.73 198.28 318.5 197.5 C319.27 196.72 320.05 196 320.8 195 C321.55 194 322.23 192.72 323 191.5 C323.77 190.28 324.62 188.78 325.4 187.7 C326.18 186.62 326.93 185.92 327.7 185 C328.47 184.08 329.38 182.45 330 182.2 C330.62 181.95 330.93 183.37 331.4 183.5 C331.87 183.63 332.33 182.67 332.8 183 C333.27 183.33 333.75 184.57 334.2 185.5 C334.65 186.43 334.98 187.27 335.5 188.6 C336.02 189.93 336.68 191.8 337.3 193.5 C337.92 195.2 338.58 197.22 339.2 198.8 C339.82 200.38 340.37 201.77 341 203 C341.63 204.23 342.07 205.48 343 206.2 C343.93 206.92 346 207.12 346.6 207.3 C347.2 207.48 346.6 207.3 346.6 207.3 L297 207.3 Z" fill="#a6cbe0" stroke="none"/>
<line x1="285.5" y1="207.3" x2="375.8" y2="207.3" stroke="#2446b4" stroke-width="1"/>
<path d="M297 207.3 C297 207.3 296.58 207.38 297 207.3 C297.42 207.22 298.42 207.13 299.5 206.8 C300.58 206.47 302.12 205.87 303.5 205.3 C304.88 204.73 306.72 203.95 307.8 203.4 C308.88 202.85 309.22 202.47 310 202 C310.78 201.53 311.77 200.93 312.5 200.6 C313.23 200.27 313.78 200.15 314.4 200 C315.02 199.85 315.52 200.12 316.2 199.7 C316.88 199.28 317.73 198.28 318.5 197.5 C319.27 196.72 320.05 196 320.8 195 C321.55 194 322.23 192.72 323 191.5 C323.77 190.28 324.62 188.78 325.4 187.7 C326.18 186.62 326.93 185.92 327.7 185 C328.47 184.08 329.38 182.45 330 182.2 C330.62 181.95 330.93 183.37 331.4 183.5 C331.87 183.63 332.33 182.67 332.8 183 C333.27 183.33 333.75 184.57 334.2 185.5 C334.65 186.43 334.98 187.27 335.5 188.6 C336.02 189.93 336.68 191.8 337.3 193.5 C337.92 195.2 338.58 197.22 339.2 198.8 C339.82 200.38 340.37 201.77 341 203 C341.63 204.23 342.07 205.48 343 206.2 C343.93 206.92 346 207.12 346.6 207.3 C347.2 207.48 346.6 207.3 346.6 207.3" fill="none" stroke="#2446b4" stroke-width="0.9" stroke-linejoin="round"/>
<path d="M298.5 235.1 C298.5 235.1 298.17 235.2 298.5 235.1 C298.83 235 299.87 235.1 300.5 234.5 C301.13 233.9 301.68 232.48 302.3 231.5 C302.92 230.52 303.58 229.52 304.2 228.6 C304.82 227.68 305.4 226.77 306 226 C306.6 225.23 307.18 224.57 307.8 224 C308.42 223.43 309.08 223.07 309.7 222.6 C310.32 222.13 310.9 221.72 311.5 221.2 C312.1 220.68 312.68 220.12 313.3 219.5 C313.92 218.88 314.58 218.12 315.2 217.5 C315.82 216.88 316.38 216.42 317 215.8 C317.62 215.18 318.28 214.52 318.9 213.8 C319.52 213.08 320.08 212.27 320.7 211.5 C321.32 210.73 321.98 209.92 322.6 209.2 C323.22 208.48 323.78 207.82 324.4 207.2 C325.02 206.58 325.75 205.73 326.3 205.5 C326.85 205.27 327.25 205.95 327.7 205.8 C328.15 205.65 328.47 204.33 329 204.6 C329.53 204.87 330.35 206.17 330.9 207.4 C331.45 208.63 331.83 210.47 332.3 212 C332.77 213.53 333.23 215.05 333.7 216.6 C334.17 218.15 334.63 219.77 335.1 221.3 C335.57 222.83 336.03 224.43 336.5 225.8 C336.97 227.17 337.45 228.42 337.9 229.5 C338.35 230.58 338.75 231.55 339.2 232.3 C339.65 233.05 340.05 233.53 340.6 234 C341.15 234.47 342.18 234.92 342.5 235.1 C342.82 235.28 342.5 235.1 342.5 235.1 L298.5 235.1 Z" fill="#c9a2b6" stroke="none"/>
<line x1="285.5" y1="235.1" x2="375.8" y2="235.1" stroke="#7a2a48" stroke-width="1"/>
<path d="M298.5 235.1 C298.5 235.1 298.17 235.2 298.5 235.1 C298.83 235 299.87 235.1 300.5 234.5 C301.13 233.9 301.68 232.48 302.3 231.5 C302.92 230.52 303.58 229.52 304.2 228.6 C304.82 227.68 305.4 226.77 306 226 C306.6 225.23 307.18 224.57 307.8 224 C308.42 223.43 309.08 223.07 309.7 222.6 C310.32 222.13 310.9 221.72 311.5 221.2 C312.1 220.68 312.68 220.12 313.3 219.5 C313.92 218.88 314.58 218.12 315.2 217.5 C315.82 216.88 316.38 216.42 317 215.8 C317.62 215.18 318.28 214.52 318.9 213.8 C319.52 213.08 320.08 212.27 320.7 211.5 C321.32 210.73 321.98 209.92 322.6 209.2 C323.22 208.48 323.78 207.82 324.4 207.2 C325.02 206.58 325.75 205.73 326.3 205.5 C326.85 205.27 327.25 205.95 327.7 205.8 C328.15 205.65 328.47 204.33 329 204.6 C329.53 204.87 330.35 206.17 330.9 207.4 C331.45 208.63 331.83 210.47 332.3 212 C332.77 213.53 333.23 215.05 333.7 216.6 C334.17 218.15 334.63 219.77 335.1 221.3 C335.57 222.83 336.03 224.43 336.5 225.8 C336.97 227.17 337.45 228.42 337.9 229.5 C338.35 230.58 338.75 231.55 339.2 232.3 C339.65 233.05 340.05 233.53 340.6 234 C341.15 234.47 342.18 234.92 342.5 235.1 C342.82 235.28 342.5 235.1 342.5 235.1" fill="none" stroke="#6e1f3e" stroke-width="0.9" stroke-linejoin="round"/>
<path d="M302 262.7 C302 262.7 301.5 262.75 302 262.7 C302.5 262.65 303.95 262.55 305 262.4 C306.05 262.25 307.22 262.03 308.3 261.8 C309.38 261.57 310.52 261.28 311.5 261 C312.48 260.72 313.28 260.43 314.2 260.1 C315.12 259.77 316.13 259.52 317 259 C317.87 258.48 318.62 257.75 319.4 257 C320.18 256.25 320.93 255.58 321.7 254.5 C322.47 253.42 323.23 251.88 324 250.5 C324.77 249.12 325.6 247.7 326.3 246.2 C327 244.7 327.58 243.05 328.2 241.5 C328.82 239.95 329.47 238.15 330 236.9 C330.53 235.65 330.93 234.85 331.4 234 C331.87 233.15 332.33 231.88 332.8 231.8 C333.27 231.72 333.75 232.8 334.2 233.5 C334.65 234.2 335.03 234.75 335.5 236 C335.97 237.25 336.53 239.3 337 241 C337.47 242.7 337.85 244.53 338.3 246.2 C338.75 247.87 339.23 249.47 339.7 251 C340.17 252.53 340.63 254.07 341.1 255.4 C341.57 256.73 342.05 257.9 342.5 259 C342.95 260.1 343.3 261.38 343.8 262 C344.3 262.62 345.22 262.58 345.5 262.7 C345.78 262.82 345.5 262.7 345.5 262.7 L302 262.7 Z" fill="#a7d6a2" stroke="none"/>
<line x1="285.5" y1="262.7" x2="375.8" y2="262.7" stroke="#2b6a2c" stroke-width="1"/>
<path d="M302 262.7 C302 262.7 301.5 262.75 302 262.7 C302.5 262.65 303.95 262.55 305 262.4 C306.05 262.25 307.22 262.03 308.3 261.8 C309.38 261.57 310.52 261.28 311.5 261 C312.48 260.72 313.28 260.43 314.2 260.1 C315.12 259.77 316.13 259.52 317 259 C317.87 258.48 318.62 257.75 319.4 257 C320.18 256.25 320.93 255.58 321.7 254.5 C322.47 253.42 323.23 251.88 324 250.5 C324.77 249.12 325.6 247.7 326.3 246.2 C327 244.7 327.58 243.05 328.2 241.5 C328.82 239.95 329.47 238.15 330 236.9 C330.53 235.65 330.93 234.85 331.4 234 C331.87 233.15 332.33 231.88 332.8 231.8 C333.27 231.72 333.75 232.8 334.2 233.5 C334.65 234.2 335.03 234.75 335.5 236 C335.97 237.25 336.53 239.3 337 241 C337.47 242.7 337.85 244.53 338.3 246.2 C338.75 247.87 339.23 249.47 339.7 251 C340.17 252.53 340.63 254.07 341.1 255.4 C341.57 256.73 342.05 257.9 342.5 259 C342.95 260.1 343.3 261.38 343.8 262 C344.3 262.62 345.22 262.58 345.5 262.7 C345.78 262.82 345.5 262.7 345.5 262.7" fill="none" stroke="#2b6a2c" stroke-width="0.9" stroke-linejoin="round"/>
<line x1="315.2" y1="153.3" x2="315.2" y2="262.8" stroke="#555" stroke-width="0.9" stroke-dasharray="3.2 1.8"/>
<rect x="284.8" y="152.5" width="91.7" height="110.3" fill="none" stroke="#000" stroke-width="1.4"/>
<path d="M286.7 263.5v1.6M288.7 263.5v1.6M290.7 263.5v1.6M292.7 263.5v1.6M294.7 263.5v1.6M296.7 263.5v1.6M298.7 263.5v1.6M300.7 263.5v1.6M302.7 263.5v1.6M304.7 263.5v1.6M306.7 263.5v1.6M308.7 263.5v1.6M310.7 263.5v1.6M312.7 263.5v1.6M314.7 263.5v1.6M316.7 263.5v1.6M318.7 263.5v1.6M320.7 263.5v1.6M322.7 263.5v1.6M324.7 263.5v1.6M326.7 263.5v1.6M328.7 263.5v1.6M330.7 263.5v1.6M332.7 263.5v1.6M334.7 263.5v1.6M336.7 263.5v1.6M338.7 263.5v1.6M340.7 263.5v1.6M342.7 263.5v1.6M344.7 263.5v1.6M346.7 263.5v1.6M348.7 263.5v1.6M350.7 263.5v1.6M352.7 263.5v1.6M354.7 263.5v1.6M356.7 263.5v1.6M358.7 263.5v1.6M360.7 263.5v1.6M362.7 263.5v1.6M364.7 263.5v1.6M366.7 263.5v1.6M368.7 263.5v1.6M370.7 263.5v1.6M372.7 263.5v1.6M374.7 263.5v1.6" stroke="#333" stroke-width="0.6"/>
<line x1="304.9" y1="263.5" x2="304.9" y2="265.7" stroke="#000" stroke-width="0.9"/>
<line x1="325.2" y1="263.5" x2="325.2" y2="265.7" stroke="#000" stroke-width="0.9"/>
<line x1="348.5" y1="263.5" x2="348.5" y2="265.7" stroke="#000" stroke-width="0.9"/>
<line x1="368.5" y1="263.5" x2="368.5" y2="265.7" stroke="#000" stroke-width="0.9"/>
<text x="58.6" y="274.2" font-size="7.3" fill="#222" text-anchor="middle" font-weight="normal" textLength="3.9" lengthAdjust="spacingAndGlyphs" stroke="#222" stroke-width="0.12">0</text>
<text x="74.6" y="274.2" font-size="7.3" fill="#222" text-anchor="start" font-weight="normal" textLength="6.9" lengthAdjust="spacingAndGlyphs" stroke="#222" stroke-width="0.12">10</text>
<text x="81.8" y="271.4" font-size="4.8" fill="#222" text-anchor="start" font-weight="normal" stroke="#222" stroke-width="0.12">3</text>
<text x="97.4" y="274.2" font-size="7.3" fill="#222" text-anchor="start" font-weight="normal" textLength="6.9" lengthAdjust="spacingAndGlyphs" stroke="#222" stroke-width="0.12">10</text>
<text x="104.6" y="271.4" font-size="4.8" fill="#222" text-anchor="start" font-weight="normal" stroke="#222" stroke-width="0.12">4</text>
<text x="117.7" y="274.2" font-size="7.3" fill="#222" text-anchor="start" font-weight="normal" textLength="6.9" lengthAdjust="spacingAndGlyphs" stroke="#222" stroke-width="0.12">10</text>
<text x="124.9" y="271.4" font-size="4.8" fill="#222" text-anchor="start" font-weight="normal" stroke="#222" stroke-width="0.12">5</text>
<text x="85.5" y="284" font-size="9.4" fill="#666" text-anchor="middle" font-weight="normal" textLength="28" lengthAdjust="spacingAndGlyphs" stroke="#666" stroke-width="0.12">IL-18R&#945;</text>
<text x="304.8" y="274.2" font-size="7.3" fill="#222" text-anchor="middle" font-weight="normal" textLength="3.9" lengthAdjust="spacingAndGlyphs" stroke="#222" stroke-width="0.12">0</text>
<text x="320.8" y="274.2" font-size="7.3" fill="#222" text-anchor="start" font-weight="normal" textLength="6.9" lengthAdjust="spacingAndGlyphs" stroke="#222" stroke-width="0.12">10</text>
<text x="328" y="271.4" font-size="4.8" fill="#222" text-anchor="start" font-weight="normal" stroke="#222" stroke-width="0.12">3</text>
<text x="343.6" y="274.2" font-size="7.3" fill="#222" text-anchor="start" font-weight="normal" textLength="6.9" lengthAdjust="spacingAndGlyphs" stroke="#222" stroke-width="0.12">10</text>
<text x="350.8" y="271.4" font-size="4.8" fill="#222" text-anchor="start" font-weight="normal" stroke="#222" stroke-width="0.12">4</text>
<text x="363.9" y="274.2" font-size="7.3" fill="#222" text-anchor="start" font-weight="normal" textLength="6.9" lengthAdjust="spacingAndGlyphs" stroke="#222" stroke-width="0.12">10</text>
<text x="371.1" y="271.4" font-size="4.8" fill="#222" text-anchor="start" font-weight="normal" stroke="#222" stroke-width="0.12">5</text>
<text x="331.7" y="284" font-size="9.4" fill="#666" text-anchor="middle" font-weight="normal" textLength="23.5" lengthAdjust="spacingAndGlyphs" stroke="#666" stroke-width="0.12">CD49d</text>
<rect x="182.7" y="43.2" width="10.2" height="20.5" fill="#a9bbb3"/>
<line x1="180.2" y1="53.5" x2="196.3" y2="53.5" stroke="#000" stroke-width="0.9"/>
<line x1="188" y1="43.2" x2="188" y2="63.7" stroke="#000" stroke-width="2"/>
<circle cx="180.2" cy="52.1" r="2.15" fill="#b9cbc3" stroke="#000" stroke-width="1.1"/>
<circle cx="182.5" cy="54.4" r="2.15" fill="#b9cbc3" stroke="#000" stroke-width="1.1"/>
<circle cx="184.2" cy="52.7" r="2.15" fill="#b9cbc3" stroke="#000" stroke-width="1.1"/>
<circle cx="186.5" cy="53.8" r="2.15" fill="#b9cbc3" stroke="#000" stroke-width="1.1"/>
<circle cx="191.1" cy="53.8" r="2.15" fill="#b9cbc3" stroke="#000" stroke-width="1.1"/>
<circle cx="194" cy="53.6" r="2.15" fill="#b9cbc3" stroke="#000" stroke-width="1.1"/>
<circle cx="196.3" cy="53.8" r="2.15" fill="#b9cbc3" stroke="#000" stroke-width="1.1"/>
<rect x="175.9" y="70.1" width="20.2" height="19.9" fill="#0b3cad"/>
<line x1="170.1" y1="79.8" x2="198" y2="79.8" stroke="#000" stroke-width="0.9"/>
<line x1="188.6" y1="70.1" x2="188.6" y2="90" stroke="#000" stroke-width="2"/>
<circle cx="170.1" cy="79.7" r="2.15" fill="#1a4fd0" stroke="#000" stroke-width="1.1"/>
<circle cx="173.2" cy="78.6" r="2.15" fill="#1a4fd0" stroke="#000" stroke-width="1.1"/>
<circle cx="179.6" cy="79.7" r="2.15" fill="#1a4fd0" stroke="#000" stroke-width="1.1"/>
<circle cx="184.2" cy="80.6" r="2.15" fill="#1a4fd0" stroke="#000" stroke-width="1.1"/>
<circle cx="193.4" cy="79.2" r="2.15" fill="#1a4fd0" stroke="#000" stroke-width="1.1"/>
<circle cx="196.9" cy="78.6" r="2.15" fill="#1a4fd0" stroke="#000" stroke-width="1.1"/>
<circle cx="198" cy="79.7" r="2.15" fill="#1a4fd0" stroke="#000" stroke-width="1.1"/>
<rect x="151.9" y="97.2" width="24.5" height="19.2" fill="#c80f2c"/>
<line x1="150.7" y1="106.8" x2="186" y2="106.8" stroke="#000" stroke-width="0.9"/>
<line x1="165.7" y1="97.2" x2="165.7" y2="116.4" stroke="#000" stroke-width="2"/>
<circle cx="150.7" cy="105.7" r="2.15" fill="#e0142c" stroke="#000" stroke-width="1.1"/>
<circle cx="154" cy="108.2" r="2.15" fill="#e0142c" stroke="#000" stroke-width="1.1"/>
<circle cx="159.5" cy="108.2" r="2.15" fill="#e0142c" stroke="#000" stroke-width="1.1"/>
<circle cx="170.8" cy="106.4" r="2.15" fill="#e0142c" stroke="#000" stroke-width="1.1"/>
<circle cx="175.8" cy="108.2" r="2.15" fill="#e0142c" stroke="#000" stroke-width="1.1"/>
<circle cx="178" cy="106.4" r="2.15" fill="#e0142c" stroke="#000" stroke-width="1.1"/>
<circle cx="184" cy="104.5" r="2.15" fill="#e0142c" stroke="#000" stroke-width="1.1"/>
<circle cx="185.9" cy="108.2" r="2.15" fill="#e0142c" stroke="#000" stroke-width="1.1"/>
<rect x="151.9" y="123.3" width="23.9" height="19.3" fill="#3ff21a"/>
<line x1="150" y1="133.6" x2="190.3" y2="133.6" stroke="#000" stroke-width="0.9"/>
<line x1="157" y1="123.3" x2="157" y2="142.6" stroke="#000" stroke-width="2"/>
<circle cx="150" cy="133.4" r="2.15" fill="#22c820" stroke="#000" stroke-width="1.1"/>
<circle cx="151.9" cy="131.5" r="2.15" fill="#22c820" stroke="#000" stroke-width="1.1"/>
<circle cx="157" cy="131.5" r="2.15" fill="#22c820" stroke="#000" stroke-width="1.1"/>
<circle cx="158.8" cy="133.8" r="2.15" fill="#22c820" stroke="#000" stroke-width="1.1"/>
<circle cx="173.7" cy="133.8" r="2.15" fill="#22c820" stroke="#000" stroke-width="1.1"/>
<circle cx="182.5" cy="133.8" r="2.15" fill="#22c820" stroke="#000" stroke-width="1.1"/>
<circle cx="190.3" cy="133.8" r="2.15" fill="#22c820" stroke="#000" stroke-width="1.1"/>
<path d="M200.3 53.4 H202.5 V79.9 H200.3" fill="none" stroke="#1a1a1a" stroke-width="1.05"/>
<text x="206" y="67.95" font-size="6.4" fill="#222" text-anchor="middle" textLength="11.9" lengthAdjust="spacingAndGlyphs" transform="rotate(90 206 67.95)" dy="2.2" stroke="#222" stroke-width="0.12">0.91</text>
<path d="M205.6 53.4 H209 V106.6 H205.6" fill="none" stroke="#1a1a1a" stroke-width="1.05"/>
<text x="212.9" y="80.45" font-size="6.4" fill="#222" text-anchor="middle" textLength="19.9" lengthAdjust="spacingAndGlyphs" transform="rotate(90 212.9 80.45)" dy="2.2" stroke="#222" stroke-width="0.12">0.0013</text>
<path d="M213.4 53.8 H216.9 V133.2 H213.4" fill="none" stroke="#1a1a1a" stroke-width="1.05"/>
<text x="220.5" y="98.05" font-size="6.4" fill="#222" text-anchor="middle" textLength="20.5" lengthAdjust="spacingAndGlyphs" transform="rotate(90 220.5 98.05)" dy="2.2" stroke="#222" stroke-width="0.12">0.0039</text>
<rect x="133.6" y="37.8" width="90.3" height="110.3" fill="none" stroke="#000" stroke-width="1.4"/>
<rect x="200.2" y="158.4" width="5.4" height="20.2" fill="#a9bbb3"/>
<line x1="197.9" y1="169" x2="206.1" y2="169" stroke="#000" stroke-width="0.9"/>
<line x1="202.8" y1="158.4" x2="202.8" y2="178.6" stroke="#000" stroke-width="2"/>
<circle cx="197.9" cy="170.2" r="2.15" fill="#b9cbc3" stroke="#000" stroke-width="1.1"/>
<circle cx="199.6" cy="168.4" r="2.15" fill="#b9cbc3" stroke="#000" stroke-width="1.1"/>
<circle cx="201.4" cy="170.5" r="2.15" fill="#b9cbc3" stroke="#000" stroke-width="1.1"/>
<circle cx="203.2" cy="167.8" r="2.15" fill="#b9cbc3" stroke="#000" stroke-width="1.1"/>
<circle cx="205.3" cy="168.4" r="2.15" fill="#b9cbc3" stroke="#000" stroke-width="1.1"/>
<circle cx="206.1" cy="169.6" r="2.15" fill="#b9cbc3" stroke="#000" stroke-width="1.1"/>
<rect x="192.3" y="185.4" width="12.6" height="20" fill="#0b3cad"/>
<line x1="186.5" y1="195.2" x2="204.9" y2="195.2" stroke="#000" stroke-width="0.9"/>
<line x1="202.2" y1="185.4" x2="202.2" y2="205.4" stroke="#000" stroke-width="2"/>
<circle cx="186.5" cy="196.4" r="2.15" fill="#1a4fd0" stroke="#000" stroke-width="1.1"/>
<circle cx="188.1" cy="195.4" r="2.15" fill="#1a4fd0" stroke="#000" stroke-width="1.1"/>
<circle cx="189.7" cy="194.5" r="2.15" fill="#1a4fd0" stroke="#000" stroke-width="1.1"/>
<circle cx="196.1" cy="195.2" r="2.15" fill="#1a4fd0" stroke="#000" stroke-width="1.1"/>
<circle cx="198.5" cy="194.3" r="2.15" fill="#1a4fd0" stroke="#000" stroke-width="1.1"/>
<circle cx="200.2" cy="194.8" r="2.15" fill="#1a4fd0" stroke="#000" stroke-width="1.1"/>
<circle cx="204.9" cy="194" r="2.15" fill="#1a4fd0" stroke="#000" stroke-width="1.1"/>
<rect x="180" y="212.2" width="19.4" height="19" fill="#c80f2c"/>
<line x1="172.2" y1="222" x2="201.5" y2="222" stroke="#000" stroke-width="0.9"/>
<line x1="187.1" y1="212.2" x2="187.1" y2="231.2" stroke="#000" stroke-width="2"/>
<circle cx="172.2" cy="224.1" r="2.15" fill="#e0142c" stroke="#000" stroke-width="1.1"/>
<circle cx="175.5" cy="222.3" r="2.15" fill="#e0142c" stroke="#000" stroke-width="1.1"/>
<circle cx="178.2" cy="220.6" r="2.15" fill="#e0142c" stroke="#000" stroke-width="1.1"/>
<circle cx="182.3" cy="222.3" r="2.15" fill="#e0142c" stroke="#000" stroke-width="1.1"/>
<circle cx="186.5" cy="221.1" r="2.15" fill="#e0142c" stroke="#000" stroke-width="1.1"/>
<circle cx="188.3" cy="223.2" r="2.15" fill="#e0142c" stroke="#000" stroke-width="1.1"/>
<circle cx="200.3" cy="223.5" r="2.15" fill="#e0142c" stroke="#000" stroke-width="1.1"/>
<circle cx="201.5" cy="220.8" r="2.15" fill="#e0142c" stroke="#000" stroke-width="1.1"/>
<circle cx="172.2" cy="232.3" r="2.15" fill="#e0142c" stroke="#000" stroke-width="1.1"/>
<rect x="179.1" y="238.6" width="21.5" height="19" fill="#3ff21a"/>
<line x1="166.2" y1="248.2" x2="203.3" y2="248.2" stroke="#000" stroke-width="0.9"/>
<line x1="181.7" y1="238.6" x2="181.7" y2="257.6" stroke="#000" stroke-width="2"/>
<circle cx="166.2" cy="246.9" r="2.15" fill="#22c820" stroke="#000" stroke-width="1.1"/>
<circle cx="170" cy="248.1" r="2.15" fill="#22c820" stroke="#000" stroke-width="1.1"/>
<circle cx="181.1" cy="247.5" r="2.15" fill="#22c820" stroke="#000" stroke-width="1.1"/>
<circle cx="183.5" cy="247.1" r="2.15" fill="#22c820" stroke="#000" stroke-width="1.1"/>
<circle cx="181.1" cy="249.9" r="2.15" fill="#22c820" stroke="#000" stroke-width="1.1"/>
<circle cx="200.3" cy="249.5" r="2.15" fill="#22c820" stroke="#000" stroke-width="1.1"/>
<circle cx="203.3" cy="249.3" r="2.15" fill="#22c820" stroke="#000" stroke-width="1.1"/>
<path d="M182.7 168.4 H180.3 V195.4 H182.7" fill="none" stroke="#1a1a1a" stroke-width="1.05"/>
<path d="M170.4 169.4 H167.3 V221.9 H170.4" fill="none" stroke="#1a1a1a" stroke-width="1.05"/>
<path d="M158.2 169.4 H155.1 V249.1 H158.2" fill="none" stroke="#1a1a1a" stroke-width="1.05"/>
<text x="177.2" y="182" font-size="6.4" fill="#222" text-anchor="middle" textLength="12.6" lengthAdjust="spacingAndGlyphs" transform="rotate(90 177.2 182)" dy="2.2" stroke="#222" stroke-width="0.12">0.33</text>
<text x="163" y="195.95" font-size="6.4" fill="#222" text-anchor="middle" textLength="19.5" lengthAdjust="spacingAndGlyphs" transform="rotate(90 163 195.95)" dy="2.2" stroke="#222" stroke-width="0.12">0.0017</text>
<text x="150.9" y="208.75" font-size="6.4" fill="#222" text-anchor="middle" textLength="19.9" lengthAdjust="spacingAndGlyphs" transform="rotate(90 150.9 208.75)" dy="2.2" stroke="#222" stroke-width="0.12">0.0087</text>
<rect x="133.6" y="152.5" width="90.3" height="110.3" fill="none" stroke="#000" stroke-width="1.4"/>
<rect x="400.1" y="43.6" width="8.8" height="20.7" fill="#a9bbb3"/>
<line x1="395.7" y1="53.8" x2="413.3" y2="53.8" stroke="#000" stroke-width="0.9"/>
<line x1="406.1" y1="43.6" x2="406.1" y2="64.3" stroke="#000" stroke-width="2"/>
<circle cx="395.7" cy="53.7" r="2.15" fill="#b9cbc3" stroke="#000" stroke-width="1.1"/>
<circle cx="399.5" cy="54.1" r="2.15" fill="#b9cbc3" stroke="#000" stroke-width="1.1"/>
<circle cx="403.9" cy="55" r="2.15" fill="#b9cbc3" stroke="#000" stroke-width="1.1"/>
<circle cx="405.1" cy="55.6" r="2.15" fill="#b9cbc3" stroke="#000" stroke-width="1.1"/>
<circle cx="408.9" cy="52.8" r="2.15" fill="#b9cbc3" stroke="#000" stroke-width="1.1"/>
<circle cx="412" cy="52.8" r="2.15" fill="#b9cbc3" stroke="#000" stroke-width="1.1"/>
<circle cx="413.3" cy="53.7" r="2.15" fill="#b9cbc3" stroke="#000" stroke-width="1.1"/>
<rect x="402" y="70.1" width="11.9" height="20.1" fill="#0b3cad"/>
<line x1="395.7" y1="80" x2="418.3" y2="80" stroke="#000" stroke-width="0.9"/>
<line x1="407" y1="70.1" x2="407" y2="90.2" stroke="#000" stroke-width="2"/>
<circle cx="395.7" cy="78.3" r="2.15" fill="#1a4fd0" stroke="#000" stroke-width="1.1"/>
<circle cx="397.6" cy="81.4" r="2.15" fill="#1a4fd0" stroke="#000" stroke-width="1.1"/>
<circle cx="401.4" cy="80.5" r="2.15" fill="#1a4fd0" stroke="#000" stroke-width="1.1"/>
<circle cx="404.9" cy="81.4" r="2.15" fill="#1a4fd0" stroke="#000" stroke-width="1.1"/>
<circle cx="410.8" cy="81" r="2.15" fill="#1a4fd0" stroke="#000" stroke-width="1.1"/>
<circle cx="414.6" cy="78.5" r="2.15" fill="#1a4fd0" stroke="#000" stroke-width="1.1"/>
<circle cx="418.3" cy="78.9" r="2.15" fill="#1a4fd0" stroke="#000" stroke-width="1.1"/>
<rect x="391.2" y="96.9" width="7.6" height="19.7" fill="#c80f2c"/>
<line x1="391.2" y1="106.4" x2="402.3" y2="106.4" stroke="#000" stroke-width="0.9"/>
<line x1="392" y1="96.9" x2="392" y2="116.6" stroke="#000" stroke-width="2"/>
<circle cx="391.2" cy="106.1" r="2.15" fill="#e0142c" stroke="#000" stroke-width="1.1"/>
<circle cx="392.3" cy="107.8" r="2.15" fill="#e0142c" stroke="#000" stroke-width="1.1"/>
<circle cx="397.6" cy="106.1" r="2.15" fill="#e0142c" stroke="#000" stroke-width="1.1"/>
<circle cx="400.5" cy="104.9" r="2.15" fill="#e0142c" stroke="#000" stroke-width="1.1"/>
<circle cx="402.3" cy="106.1" r="2.15" fill="#e0142c" stroke="#000" stroke-width="1.1"/>
<circle cx="399.4" cy="107.8" r="2.15" fill="#e0142c" stroke="#000" stroke-width="1.1"/>
<rect x="391.2" y="123.5" width="10.9" height="19.2" fill="#3ff21a"/>
<line x1="388.2" y1="132.8" x2="408.2" y2="132.8" stroke="#000" stroke-width="0.9"/>
<line x1="395.8" y1="123.5" x2="395.8" y2="142.7" stroke="#000" stroke-width="2"/>
<circle cx="388.2" cy="131.9" r="2.15" fill="#22c820" stroke="#000" stroke-width="1.1"/>
<circle cx="390.6" cy="133.1" r="2.15" fill="#22c820" stroke="#000" stroke-width="1.1"/>
<circle cx="391.7" cy="131.3" r="2.15" fill="#22c820" stroke="#000" stroke-width="1.1"/>
<circle cx="398.2" cy="133.7" r="2.15" fill="#22c820" stroke="#000" stroke-width="1.1"/>
<circle cx="401.7" cy="131.9" r="2.15" fill="#22c820" stroke="#000" stroke-width="1.1"/>
<circle cx="405.2" cy="133.7" r="2.15" fill="#22c820" stroke="#000" stroke-width="1.1"/>
<circle cx="408.2" cy="133.3" r="2.15" fill="#22c820" stroke="#000" stroke-width="1.1"/>
<path d="M424.8 53.3 H426.6 V80 H424.8" fill="none" stroke="#1a1a1a" stroke-width="1.05"/>
<text x="430.5" y="66.35" font-size="6.4" fill="#222" text-anchor="middle" textLength="12.7" lengthAdjust="spacingAndGlyphs" transform="rotate(90 430.5 66.35)" dy="2.2" stroke="#222" stroke-width="0.12">0.53</text>
<path d="M436.4 53.8 H440 V106.8 H436.4" fill="none" stroke="#1a1a1a" stroke-width="1.05"/>
<text x="444.2" y="80.25" font-size="6.4" fill="#222" text-anchor="middle" textLength="18.9" lengthAdjust="spacingAndGlyphs" transform="rotate(90 444.2 80.25)" dy="2.2" stroke="#222" stroke-width="0.12">0.0011</text>
<path d="M451.5 53.8 H454.4 V133.2 H451.5" fill="none" stroke="#1a1a1a" stroke-width="1.05"/>
<text x="457.8" y="92.35" font-size="6.4" fill="#222" text-anchor="middle" textLength="19.3" lengthAdjust="spacingAndGlyphs" transform="rotate(90 457.8 92.35)" dy="2.2" stroke="#222" stroke-width="0.12">0.0034</text>
<rect x="379.8" y="37.8" width="90.3" height="110.3" fill="none" stroke="#000" stroke-width="1.4"/>
<rect x="443.8" y="158.5" width="4.7" height="20.3" fill="#a9bbb3"/>
<line x1="439.7" y1="169" x2="450.2" y2="169" stroke="#000" stroke-width="0.9"/>
<line x1="446.7" y1="158.5" x2="446.7" y2="178.8" stroke="#000" stroke-width="2"/>
<circle cx="439.7" cy="168.4" r="2.15" fill="#b9cbc3" stroke="#000" stroke-width="1.1"/>
<circle cx="442" cy="167.8" r="2.15" fill="#b9cbc3" stroke="#000" stroke-width="1.1"/>
<circle cx="443.8" cy="171.4" r="2.15" fill="#b9cbc3" stroke="#000" stroke-width="1.1"/>
<circle cx="445.5" cy="169" r="2.15" fill="#b9cbc3" stroke="#000" stroke-width="1.1"/>
<circle cx="447.9" cy="167.3" r="2.15" fill="#b9cbc3" stroke="#000" stroke-width="1.1"/>
<circle cx="449.6" cy="167.8" r="2.15" fill="#b9cbc3" stroke="#000" stroke-width="1.1"/>
<circle cx="450.2" cy="169.6" r="2.15" fill="#b9cbc3" stroke="#000" stroke-width="1.1"/>
<rect x="435.8" y="185.5" width="14.1" height="19.9" fill="#0b3cad"/>
<line x1="427.9" y1="195.5" x2="451.4" y2="195.5" stroke="#000" stroke-width="0.9"/>
<line x1="447.1" y1="185.5" x2="447.1" y2="205.4" stroke="#000" stroke-width="2"/>
<circle cx="427.9" cy="194.8" r="2.15" fill="#1a4fd0" stroke="#000" stroke-width="1.1"/>
<circle cx="430.9" cy="197.2" r="2.15" fill="#1a4fd0" stroke="#000" stroke-width="1.1"/>
<circle cx="433.2" cy="196.4" r="2.15" fill="#1a4fd0" stroke="#000" stroke-width="1.1"/>
<circle cx="440" cy="193.7" r="2.15" fill="#1a4fd0" stroke="#000" stroke-width="1.1"/>
<circle cx="445.5" cy="196.6" r="2.15" fill="#1a4fd0" stroke="#000" stroke-width="1.1"/>
<circle cx="449.6" cy="193.3" r="2.15" fill="#1a4fd0" stroke="#000" stroke-width="1.1"/>
<circle cx="451.4" cy="197.2" r="2.15" fill="#1a4fd0" stroke="#000" stroke-width="1.1"/>
<rect x="437.3" y="212.2" width="5.1" height="19.1" fill="#c80f2c"/>
<line x1="435.5" y1="221.8" x2="446.9" y2="221.8" stroke="#000" stroke-width="0.9"/>
<line x1="438.9" y1="212.2" x2="438.9" y2="231.3" stroke="#000" stroke-width="2"/>
<circle cx="435.5" cy="221.5" r="2.15" fill="#e0142c" stroke="#000" stroke-width="1.1"/>
<circle cx="438.9" cy="221.7" r="2.15" fill="#e0142c" stroke="#000" stroke-width="1.1"/>
<circle cx="441.5" cy="221.5" r="2.15" fill="#e0142c" stroke="#000" stroke-width="1.1"/>
<circle cx="443.3" cy="220.5" r="2.15" fill="#e0142c" stroke="#000" stroke-width="1.1"/>
<circle cx="445.1" cy="223.5" r="2.15" fill="#e0142c" stroke="#000" stroke-width="1.1"/>
<circle cx="446.9" cy="221.7" r="2.15" fill="#e0142c" stroke="#000" stroke-width="1.1"/>
<circle cx="419.5" cy="222.6" r="2.15" fill="#e0142c" stroke="#000" stroke-width="1.1"/>
<rect x="433.1" y="238.7" width="14.1" height="18.8" fill="#3ff21a"/>
<line x1="429.6" y1="248.3" x2="449.9" y2="248.3" stroke="#000" stroke-width="0.9"/>
<line x1="434.3" y1="238.7" x2="434.3" y2="257.5" stroke="#000" stroke-width="2"/>
<circle cx="429.6" cy="246.8" r="2.15" fill="#22c820" stroke="#000" stroke-width="1.1"/>
<circle cx="431.9" cy="249.8" r="2.15" fill="#22c820" stroke="#000" stroke-width="1.1"/>
<circle cx="434.3" cy="248" r="2.15" fill="#22c820" stroke="#000" stroke-width="1.1"/>
<circle cx="435.5" cy="249.2" r="2.15" fill="#22c820" stroke="#000" stroke-width="1.1"/>
<circle cx="447.7" cy="248.9" r="2.15" fill="#22c820" stroke="#000" stroke-width="1.1"/>
<circle cx="449.9" cy="248.2" r="2.15" fill="#22c820" stroke="#000" stroke-width="1.1"/>
<path d="M420.8 168.5 H419.0 V195.5 H420.8" fill="none" stroke="#1a1a1a" stroke-width="1.05"/>
<path d="M409.5 168.5 H406.3 V221.9 H409.5" fill="none" stroke="#1a1a1a" stroke-width="1.05"/>
<path d="M396.3 169.0 H393.5 V248.7 H396.3" fill="none" stroke="#1a1a1a" stroke-width="1.05"/>
<text x="414.2" y="182.15" font-size="6.4" fill="#222" text-anchor="middle" textLength="12.3" lengthAdjust="spacingAndGlyphs" transform="rotate(90 414.2 182.15)" dy="2.2" stroke="#222" stroke-width="0.12">0.79</text>
<text x="401.6" y="195.4" font-size="6.4" fill="#222" text-anchor="middle" textLength="19.8" lengthAdjust="spacingAndGlyphs" transform="rotate(90 401.6 195.4)" dy="2.2" stroke="#222" stroke-width="0.12">0.0015</text>
<text x="387.8" y="225.55" font-size="6.4" fill="#222" text-anchor="middle" textLength="8.5" lengthAdjust="spacingAndGlyphs" transform="rotate(90 387.8 225.55)" dy="2.2" stroke="#222" stroke-width="0.12">0.2</text>
<rect x="379.8" y="152.5" width="90.3" height="110.3" fill="none" stroke="#000" stroke-width="1.4"/>
<line x1="138.1" y1="263.4" x2="138.1" y2="265.6" stroke="#000" stroke-width="0.9"/>
<text x="138.1" y="273.7" font-size="7.4" fill="#222" text-anchor="middle" font-weight="normal" textLength="3.9" lengthAdjust="spacingAndGlyphs" stroke="#222" stroke-width="0.12">0</text>
<line x1="154.82" y1="263.4" x2="154.82" y2="265.6" stroke="#000" stroke-width="0.9"/>
<text x="154.82" y="273.7" font-size="7.4" fill="#222" text-anchor="middle" font-weight="normal" textLength="7.6" lengthAdjust="spacingAndGlyphs" stroke="#222" stroke-width="0.12">25</text>
<line x1="171.54" y1="263.4" x2="171.54" y2="265.6" stroke="#000" stroke-width="0.9"/>
<text x="171.54" y="273.7" font-size="7.4" fill="#222" text-anchor="middle" font-weight="normal" textLength="7.6" lengthAdjust="spacingAndGlyphs" stroke="#222" stroke-width="0.12">50</text>
<line x1="188.26" y1="263.4" x2="188.26" y2="265.6" stroke="#000" stroke-width="0.9"/>
<text x="188.26" y="273.7" font-size="7.4" fill="#222" text-anchor="middle" font-weight="normal" textLength="7.6" lengthAdjust="spacingAndGlyphs" stroke="#222" stroke-width="0.12">75</text>
<line x1="204.98" y1="263.4" x2="204.98" y2="265.6" stroke="#000" stroke-width="0.9"/>
<text x="204.98" y="273.7" font-size="7.4" fill="#222" text-anchor="middle" font-weight="normal" textLength="11.6" lengthAdjust="spacingAndGlyphs" stroke="#222" stroke-width="0.12">100</text>
<text x="178" y="283.9" font-size="9.4" fill="#666" text-anchor="middle" font-weight="normal" textLength="42.3" lengthAdjust="spacingAndGlyphs" stroke="#666" stroke-width="0.12">IL-18R&#945; (%)</text>
<line x1="384.3" y1="263.4" x2="384.3" y2="265.6" stroke="#000" stroke-width="0.9"/>
<text x="384.3" y="273.7" font-size="7.4" fill="#222" text-anchor="middle" font-weight="normal" textLength="3.9" lengthAdjust="spacingAndGlyphs" stroke="#222" stroke-width="0.12">0</text>
<line x1="401.02" y1="263.4" x2="401.02" y2="265.6" stroke="#000" stroke-width="0.9"/>
<text x="401.02" y="273.7" font-size="7.4" fill="#222" text-anchor="middle" font-weight="normal" textLength="7.6" lengthAdjust="spacingAndGlyphs" stroke="#222" stroke-width="0.12">25</text>
<line x1="417.74" y1="263.4" x2="417.74" y2="265.6" stroke="#000" stroke-width="0.9"/>
<text x="417.74" y="273.7" font-size="7.4" fill="#222" text-anchor="middle" font-weight="normal" textLength="7.6" lengthAdjust="spacingAndGlyphs" stroke="#222" stroke-width="0.12">50</text>
<line x1="434.46" y1="263.4" x2="434.46" y2="265.6" stroke="#000" stroke-width="0.9"/>
<text x="434.46" y="273.7" font-size="7.4" fill="#222" text-anchor="middle" font-weight="normal" textLength="7.6" lengthAdjust="spacingAndGlyphs" stroke="#222" stroke-width="0.12">75</text>
<line x1="451.18" y1="263.4" x2="451.18" y2="265.6" stroke="#000" stroke-width="0.9"/>
<text x="451.18" y="273.7" font-size="7.4" fill="#222" text-anchor="middle" font-weight="normal" textLength="11.6" lengthAdjust="spacingAndGlyphs" stroke="#222" stroke-width="0.12">100</text>
<text x="424.2" y="283.9" font-size="9.4" fill="#666" text-anchor="middle" font-weight="normal" textLength="37" lengthAdjust="spacingAndGlyphs" stroke="#666" stroke-width="0.12">CD49d (%)</text>
<rect x="56.5" y="289.3" width="10.2" height="7.5" fill="#a9bbb3"/>
<line x1="61.6" y1="287.4" x2="61.6" y2="298.8" stroke="#000" stroke-width="1.3"/>
<line x1="56.5" y1="293.2" x2="66.7" y2="293.2" stroke="#000" stroke-width="1.1"/>
<circle cx="61.6" cy="293.2" r="2" fill="#b9cbc3" stroke="#000" stroke-width="1"/>
<text x="70" y="296" font-size="7.6" fill="#333" text-anchor="start" font-weight="normal" textLength="11.4" lengthAdjust="spacingAndGlyphs" stroke="#333" stroke-width="0.12">Tcon</text>
<rect x="92.9" y="289.3" width="10.2" height="7.5" fill="#0b3cad"/>
<line x1="98" y1="287.4" x2="98" y2="298.8" stroke="#000" stroke-width="1.3"/>
<line x1="92.9" y1="293.2" x2="103.1" y2="293.2" stroke="#000" stroke-width="1.1"/>
<circle cx="98" cy="293.2" r="2" fill="#1a4fd0" stroke="#000" stroke-width="1"/>
<text x="105.4" y="296" font-size="7.6" fill="#333" text-anchor="start" font-weight="normal" textLength="14.8" lengthAdjust="spacingAndGlyphs" stroke="#333" stroke-width="0.12">iNKT1</text>
<rect x="131.4" y="289.3" width="10.2" height="7.5" fill="#e3081c"/>
<line x1="136.5" y1="287.4" x2="136.5" y2="298.8" stroke="#000" stroke-width="1.3"/>
<line x1="131.4" y1="293.2" x2="141.6" y2="293.2" stroke="#000" stroke-width="1.1"/>
<circle cx="136.5" cy="293.2" r="2" fill="#e3081c" stroke="#000" stroke-width="1"/>
<text x="143.8" y="296" font-size="7.6" fill="#333" text-anchor="start" font-weight="normal" textLength="14.5" lengthAdjust="spacingAndGlyphs" stroke="#333" stroke-width="0.12">iNKT2</text>
<rect x="172.3" y="289.3" width="10.2" height="7.5" fill="#3ff21a"/>
<line x1="177.4" y1="287.4" x2="177.4" y2="298.8" stroke="#000" stroke-width="1.3"/>
<line x1="172.3" y1="293.2" x2="182.5" y2="293.2" stroke="#000" stroke-width="1.1"/>
<circle cx="177.4" cy="293.2" r="2" fill="#22c820" stroke="#000" stroke-width="1"/>
<text x="184.5" y="296" font-size="7.6" fill="#333" text-anchor="start" font-weight="normal" textLength="19.3" lengthAdjust="spacingAndGlyphs" stroke="#333" stroke-width="0.12">iNKT17</text>
<rect x="302.7" y="289.3" width="10.2" height="7.5" fill="#a9bbb3"/>
<line x1="307.8" y1="287.4" x2="307.8" y2="298.8" stroke="#000" stroke-width="1.3"/>
<line x1="302.7" y1="293.2" x2="312.9" y2="293.2" stroke="#000" stroke-width="1.1"/>
<circle cx="307.8" cy="293.2" r="2" fill="#b9cbc3" stroke="#000" stroke-width="1"/>
<text x="316.2" y="296" font-size="7.6" fill="#333" text-anchor="start" font-weight="normal" textLength="11.4" lengthAdjust="spacingAndGlyphs" stroke="#333" stroke-width="0.12">Tcon</text>
<rect x="339.1" y="289.3" width="10.2" height="7.5" fill="#0b3cad"/>
<line x1="344.2" y1="287.4" x2="344.2" y2="298.8" stroke="#000" stroke-width="1.3"/>
<line x1="339.1" y1="293.2" x2="349.3" y2="293.2" stroke="#000" stroke-width="1.1"/>
<circle cx="344.2" cy="293.2" r="2" fill="#1a4fd0" stroke="#000" stroke-width="1"/>
<text x="351.6" y="296" font-size="7.6" fill="#333" text-anchor="start" font-weight="normal" textLength="14.8" lengthAdjust="spacingAndGlyphs" stroke="#333" stroke-width="0.12">iNKT1</text>
<rect x="377.6" y="289.3" width="10.2" height="7.5" fill="#e3081c"/>
<line x1="382.7" y1="287.4" x2="382.7" y2="298.8" stroke="#000" stroke-width="1.3"/>
<line x1="377.6" y1="293.2" x2="387.8" y2="293.2" stroke="#000" stroke-width="1.1"/>
<circle cx="382.7" cy="293.2" r="2" fill="#e3081c" stroke="#000" stroke-width="1"/>
<text x="390" y="296" font-size="7.6" fill="#333" text-anchor="start" font-weight="normal" textLength="14.5" lengthAdjust="spacingAndGlyphs" stroke="#333" stroke-width="0.12">iNKT2</text>
<rect x="418.5" y="289.3" width="10.2" height="7.5" fill="#3ff21a"/>
<line x1="423.6" y1="287.4" x2="423.6" y2="298.8" stroke="#000" stroke-width="1.3"/>
<line x1="418.5" y1="293.2" x2="428.7" y2="293.2" stroke="#000" stroke-width="1.1"/>
<circle cx="423.6" cy="293.2" r="2" fill="#22c820" stroke="#000" stroke-width="1"/>
<text x="430.7" y="296" font-size="7.6" fill="#333" text-anchor="start" font-weight="normal" textLength="19.3" lengthAdjust="spacingAndGlyphs" stroke="#333" stroke-width="0.12">iNKT17</text>
<text x="7.3" y="323.6" font-size="12" fill="#000" text-anchor="start" font-weight="bold" textLength="8" lengthAdjust="spacingAndGlyphs">C</text>
<defs><filter id="bl" x="-5%" y="-5%" width="110%" height="110%"><feGaussianBlur stdDeviation="0.75"/></filter>
<filter id="tx0" x="0" y="0" width="100%" height="100%" color-interpolation-filters="sRGB"><feTurbulence type="fractalNoise" baseFrequency="0.42" numOctaves="2" seed="5" result="n"/><feColorMatrix in="n" type="matrix" values="0 0 0 0 0.97  0 0 0 0 0.93  0 0 0 0 1  3.2 0 0 0 -1.7" result="lt"/><feColorMatrix in="n" type="matrix" values="0 0 0 0 0.5  0 0 0 0 0.43  0 0 0 0 0.74  0 3.4 0 0 -1.5" result="dk"/><feColorMatrix in="n" type="matrix" values="0 0 0 0 0.88  0 0 0 0 0.64  0 0 0 0 0.87  0 0 3.2 0 -1.4" result="pk"/><feMerge><feMergeNode in="pk"/><feMergeNode in="dk"/><feMergeNode in="lt"/></feMerge><feGaussianBlur stdDeviation="0.35"/></filter>
<filter id="tx1" x="0" y="0" width="100%" height="100%" color-interpolation-filters="sRGB"><feTurbulence type="fractalNoise" baseFrequency="0.46" numOctaves="2" seed="11" result="n"/><feColorMatrix in="n" type="matrix" values="0 0 0 0 0.97  0 0 0 0 0.93  0 0 0 0 1  3.2 0 0 0 -1.7" result="lt"/><feColorMatrix in="n" type="matrix" values="0 0 0 0 0.5  0 0 0 0 0.43  0 0 0 0 0.74  0 3.4 0 0 -1.5" result="dk"/><feColorMatrix in="n" type="matrix" values="0 0 0 0 0.88  0 0 0 0 0.64  0 0 0 0 0.87  0 0 3.2 0 -1.4" result="pk"/><feMerge><feMergeNode in="pk"/><feMergeNode in="dk"/><feMergeNode in="lt"/></feMerge><feGaussianBlur stdDeviation="0.35"/></filter>
<filter id="tx2" x="0" y="0" width="100%" height="100%" color-interpolation-filters="sRGB"><feTurbulence type="fractalNoise" baseFrequency="0.4" numOctaves="2" seed="17" result="n"/><feColorMatrix in="n" type="matrix" values="0 0 0 0 0.97  0 0 0 0 0.93  0 0 0 0 1  3.2 0 0 0 -1.7" result="lt"/><feColorMatrix in="n" type="matrix" values="0 0 0 0 0.5  0 0 0 0 0.43  0 0 0 0 0.74  0 3.4 0 0 -1.5" result="dk"/><feColorMatrix in="n" type="matrix" values="0 0 0 0 0.88  0 0 0 0 0.64  0 0 0 0 0.87  0 0 3.2 0 -1.4" result="pk"/><feMerge><feMergeNode in="pk"/><feMergeNode in="dk"/><feMergeNode in="lt"/></feMerge><feGaussianBlur stdDeviation="0.35"/></filter>
</defs>
<rect x="21.5" y="314" width="74.4" height="10.7" fill="#c4e6ea"/>
<text x="53.2" y="322.5" font-size="9.8" fill="#333" textLength="11.4" lengthAdjust="spacingAndGlyphs" stroke="#333" stroke-width="0.12">BM</text>
<rect x="99.5" y="314" width="73.6" height="10.7" fill="#c4e6ea"/>
<text x="128.3" y="322.5" font-size="9.8" fill="#333" textLength="16.3" lengthAdjust="spacingAndGlyphs" stroke="#333" stroke-width="0.12">Tcon</text>
<rect x="177" y="314" width="74.2" height="10.7" fill="#c4e6ea"/>
<text x="193.2" y="322.5" font-size="9.8" fill="#3a5cc4" textLength="40.6" lengthAdjust="spacingAndGlyphs" stroke="#3a5cc4" stroke-width="0.12">Tcon+iNKT1</text>
<rect x="254.4" y="314" width="73.8" height="10.7" fill="#c4e6ea"/>
<text x="270.3" y="322.5" font-size="9.8" fill="#cc2a3c" textLength="41.5" lengthAdjust="spacingAndGlyphs" stroke="#cc2a3c" stroke-width="0.12">Tcon+iNKT2</text>
<rect x="331.6" y="314" width="74" height="10.7" fill="#c4e6ea"/>
<text x="345.4" y="322.5" font-size="9.8" fill="#4ee02a" textLength="46.1" lengthAdjust="spacingAndGlyphs" stroke="#4ee02a" stroke-width="0.12">Tcon+iNKT17</text>
<rect x="409.9" y="314" width="73.3" height="10.7" fill="#c4e6ea"/>
<text x="415.5" y="322.5" font-size="9.8" fill="#333" textLength="60.7" lengthAdjust="spacingAndGlyphs" stroke="#333" stroke-width="0.12">Histological Score</text>
<rect x="8.4" y="328.2" width="10.6" height="54.4" fill="#c4e6ea"/>
<text x="13.7" y="355.4" font-size="9.3" fill="#333" text-anchor="middle" textLength="51.5" lengthAdjust="spacingAndGlyphs" transform="rotate(-90 13.7 355.4)" dy="3.3" stroke="#333" stroke-width="0.12">Small intestine</text>
<rect x="8.1" y="385.9" width="11.0" height="54.7" fill="#c4e6ea"/>
<text x="13.6" y="413.5" font-size="9.3" fill="#333" text-anchor="middle" textLength="20.6" lengthAdjust="spacingAndGlyphs" transform="rotate(-90 13.6 413.5)" dy="3.3" stroke="#333" stroke-width="0.12">Colon</text>
<clipPath id="ci0"><rect x="22" y="327.8" width="73.9" height="54.2"/></clipPath>
<g clip-path="url(#ci0)">
<g filter="url(#bl)">
<rect x="22" y="327.8" width="73.9" height="54.2" fill="#aa9ecf" opacity="1"/>
<path d="M22 328 L96 328 L96 352 L22 350 Z" fill="#bcaede" opacity="0.7"/>
<path d="M22 355 C26.67 353.33 37.67 357.17 50 358 C62.33 358.83 88.33 357.17 96 360 C103.67 362.83 102 372.17 96 375 C90 377.83 72.33 378.17 60 377 C47.67 375.83 28.33 371.67 22 368 C15.67 364.33 17.33 356.67 22 355 Z" fill="#9080c8" opacity="0.85"/>
<path d="M21 366.6 L40 372.5 L60 377 L80 379.3 L97 380" fill="none" stroke="#d6a8d4" stroke-width="3" stroke-linecap="round" stroke-linejoin="round" opacity="1"/>
<path d="M27.5 333 L25.5 348" fill="none" stroke="#c9b6de" stroke-width="5" stroke-linecap="round" stroke-linejoin="round" opacity="0.75"/>
<path d="M41.5 343 L39.5 356" fill="none" stroke="#c9b6de" stroke-width="5.5" stroke-linecap="round" stroke-linejoin="round" opacity="0.75"/>
<path d="M58.5 333 L53.5 355" fill="none" stroke="#c9b6de" stroke-width="6" stroke-linecap="round" stroke-linejoin="round" opacity="0.75"/>
<path d="M75 332 L71 354" fill="none" stroke="#c9b6de" stroke-width="4.5" stroke-linecap="round" stroke-linejoin="round" opacity="0.75"/>
<path d="M82.6 344 L82 356" fill="none" stroke="#c9b6de" stroke-width="3.5" stroke-linecap="round" stroke-linejoin="round" opacity="0.7"/>
<path d="M89.5 343 L90 358" fill="none" stroke="#c9b6de" stroke-width="3" stroke-linecap="round" stroke-linejoin="round" opacity="0.6"/>
</g>
<rect x="22" y="327.8" width="73.9" height="54.2" fill="#000" filter="url(#tx0)" opacity="0.5"/>
<g filter="url(#bl)">
<path d="M33.8 329 L37.2 329 L34.2 342 L31.2 353 L28.6 352.5 L31.4 342 Z" fill="#f1f7f3" stroke="#8574c2" stroke-width="1.3" stroke-opacity="0.75" opacity="1"/>
<path d="M35.5 328.5 L50.5 328.5 L49.5 335 L48.2 340.5 L46.5 338.6 L43 337.6 L39 337.8 L36.6 340 L35.4 336 Z" fill="#f1f7f3" stroke="#8574c2" stroke-width="1.3" stroke-opacity="0.75" opacity="1"/>
<path d="M48.6 336 L51 330 L50 345 L47 357.5 L45 357.5 L46.8 345 Z" fill="#f1f7f3" stroke="#8574c2" stroke-width="1.3" stroke-opacity="0.75" opacity="1"/>
<path d="M68.2 327.5 L72.5 327.5 L67.5 343 L64.8 358 L60.6 357.5 L64 343 Z" fill="#f1f7f3" stroke="#8574c2" stroke-width="1.3" stroke-opacity="0.75" opacity="1"/>
<path d="M79.3 327.5 L96.5 327.5 L96.5 347 L93.6 345 L92.6 338.6 L89.5 337.2 L86.5 339.6 L84.5 339 L82.4 339.3 L80.3 341 L79.3 345 L78.3 352 L77.4 350 L78.6 340 Z" fill="#f1f7f3" stroke="#8574c2" stroke-width="1.3" stroke-opacity="0.75" opacity="1"/>
<path d="M50 327.5 L68.5 327.5 L68.5 329.3 L50 329.6 Z" fill="#f1f7f3" stroke="#8574c2" stroke-width="1.3" stroke-opacity="0.75" opacity="0.9"/>
<path d="M37 333.5 C37.42 332.88 38.67 332.05 40 331.8 C41.33 331.55 43.83 331.63 45 332 C46.17 332.37 47 333.28 47 334 C47 334.72 46.17 335.88 45 336.3 C43.83 336.72 41.25 336.63 40 336.5 C38.75 336.37 38 336 37.5 335.5 C37 335 36.58 334.12 37 333.5 Z" fill="#a293d0" stroke="#8574c2" stroke-width="1"/>
<path d="M21 370.5 L35 376.5 L50 380.2 L62 382.5 L21 382.5 Z" fill="#e9f5f0" opacity="1"/>
</g>
</g>
<rect x="22" y="327.8" width="73.9" height="54.2" fill="none" stroke="#000" stroke-width="1.7"/>
<clipPath id="ci1"><rect x="99.8" y="327.8" width="73.5" height="54.2"/></clipPath>
<g clip-path="url(#ci1)">
<g filter="url(#bl)">
<rect x="99.8" y="327.8" width="73.5" height="54.2" fill="#aa9ecf" opacity="1"/>
<path d="M100 328 L173 328 L173 342 L100 342 Z" fill="#b9abdb" opacity="0.55"/>
<path d="M100 348 C112.17 344.67 160.83 342.67 173 346 C185.17 349.33 185.17 364.67 173 368 C160.83 371.33 112.17 369.33 100 366 C87.83 362.67 87.83 351.33 100 348 Z" fill="#9080c8" opacity="0.55"/>
<path d="M100 366 C103.33 363.92 111.67 369.25 120 370.5 C128.33 371.75 141 373.42 150 373.5 C159 373.58 170 369.42 174 371 C178 372.58 186.33 381 174 383 C161.67 385 112.33 385.83 100 383 C87.67 380.17 96.67 368.08 100 366 Z" fill="#c8b4da" opacity="1"/>
<path d="M108 336 L107 364" fill="none" stroke="#8a7cc0" stroke-width="1.3" stroke-linecap="round" stroke-linejoin="round" opacity="0.45"/>
<path d="M117 338 L116.5 366" fill="none" stroke="#8a7cc0" stroke-width="1.3" stroke-linecap="round" stroke-linejoin="round" opacity="0.45"/>
<path d="M123 340 L123 367" fill="none" stroke="#8a7cc0" stroke-width="1.3" stroke-linecap="round" stroke-linejoin="round" opacity="0.45"/>
<path d="M131 338 L131.5 368" fill="none" stroke="#8a7cc0" stroke-width="1.3" stroke-linecap="round" stroke-linejoin="round" opacity="0.45"/>
<path d="M139 340 L139 368" fill="none" stroke="#8a7cc0" stroke-width="1.3" stroke-linecap="round" stroke-linejoin="round" opacity="0.45"/>
<path d="M146 339 L146.5 368" fill="none" stroke="#8a7cc0" stroke-width="1.3" stroke-linecap="round" stroke-linejoin="round" opacity="0.45"/>
<path d="M157.5 349 L163.5 363.5" fill="none" stroke="#6a5cb0" stroke-width="1.3" stroke-linecap="round" stroke-linejoin="round" opacity="0.7"/>
<path d="M168 339 L169 366" fill="none" stroke="#8a7cc0" stroke-width="1.3" stroke-linecap="round" stroke-linejoin="round" opacity="0.45"/>
</g>
<rect x="99.8" y="327.8" width="73.5" height="54.2" fill="#000" filter="url(#tx1)" opacity="0.5"/>
<g filter="url(#bl)">
<path d="M100 327 C101.42 325.5 108.08 326.33 109.5 327 C110.92 327.67 109.25 329.75 108.5 331 C107.75 332.25 106.25 333.67 105 334.5 C103.75 335.33 101.83 337.25 101 336 C100.17 334.75 98.58 328.5 100 327 Z" fill="#f1f7f3" opacity="0.95"/>
<path d="M112.8 327.5 L115.8 327.5 L114.4 340 L113.6 340 Z" fill="#f1f7f3" stroke="#8574c2" stroke-width="0.9" stroke-opacity="0.5" opacity="0.95"/>
<path d="M117.7 327.5 L120.3 327.5 L119 336 L118.2 336 Z" fill="#f1f7f3" stroke="#8574c2" stroke-width="0.9" stroke-opacity="0.5" opacity="0.95"/>
<path d="M125 327.5 L128.6 327.5 L126.9 346 L126.1 346 Z" fill="#f1f7f3" stroke="#8574c2" stroke-width="0.9" stroke-opacity="0.5" opacity="0.95"/>
<path d="M133.8 327.5 L137.2 327.5 L135.9 340 L135.1 340 Z" fill="#f1f7f3" stroke="#8574c2" stroke-width="0.9" stroke-opacity="0.5" opacity="0.95"/>
<path d="M139.8 327.5 L143.2 327.5 L141.7 341 L140.9 341 Z" fill="#f1f7f3" stroke="#8574c2" stroke-width="0.9" stroke-opacity="0.5" opacity="0.95"/>
<path d="M147.1 327.5 L149.9 327.5 L148.9 336 L148.1 336 Z" fill="#f1f7f3" stroke="#8574c2" stroke-width="0.9" stroke-opacity="0.5" opacity="0.95"/>
<path d="M151.5 327.5 L154.9 327.5 L153.4 341 L152.6 341 Z" fill="#f1f7f3" stroke="#8574c2" stroke-width="0.9" stroke-opacity="0.5" opacity="0.95"/>
<path d="M160.3 327.5 L163.3 327.5 L162.4 336 L161.6 336 Z" fill="#f1f7f3" stroke="#8574c2" stroke-width="0.9" stroke-opacity="0.5" opacity="0.95"/>
<path d="M166.3 327.5 L168.7 327.5 L168.4 334 L167.6 334 Z" fill="#f1f7f3" stroke="#8574c2" stroke-width="0.9" stroke-opacity="0.5" opacity="0.95"/>
<rect x="100" y="327.5" width="74" height="1.8" fill="#f1f7f3" opacity="0.6"/>
<path d="M99 376.5 C99.83 375.92 102.33 378.42 104 379.5 C105.67 380.58 109.83 382.42 109 383 C108.17 383.58 100.67 384.08 99 383 C97.33 381.92 98.17 377.08 99 376.5 Z" fill="#e9f5f0" opacity="1"/>
<path d="M165 383 C165 381.75 172.5 375.5 174 375.5 C175.5 375.5 175.5 381.75 174 383 C172.5 384.25 165 384.25 165 383 Z" fill="#e9f5f0" opacity="1"/>
</g>
<path d="M108.2 366.4 L108.69 361.24 L109.96 362.52 L111.66 360.82 L113.78 362.94 L112.08 364.64 L113.36 365.91 Z" fill="#000"/>
<path d="M114.7 373.1 L115.19 367.94 L116.46 369.22 L118.16 367.52 L120.28 369.64 L118.58 371.34 L119.86 372.61 Z" fill="#000"/>
<path d="M139.4 373.1 L139.89 367.94 L141.16 369.22 L142.86 367.52 L144.98 369.64 L143.28 371.34 L144.56 372.61 Z" fill="#000"/>
</g>
<rect x="99.8" y="327.8" width="73.5" height="54.2" fill="none" stroke="#000" stroke-width="1.7"/>
<clipPath id="ci2"><rect x="177" y="327.8" width="74.4" height="54.2"/></clipPath>
<g clip-path="url(#ci2)">
<g filter="url(#bl)">
<rect x="177" y="327.8" width="74.4" height="54.2" fill="#a6a3d3" opacity="1"/>
<path d="M177 352 L252 352 L252 376 L177 376 Z" fill="#9c98d0" opacity="0.55"/>
<path d="M177 376.5 C180.83 375.83 191.17 378.42 200 379 C208.83 379.58 221.33 380.5 230 380 C238.67 379.5 248.33 375.5 252 376 C255.67 376.5 264.5 381.83 252 383 C239.5 384.17 189.5 384.08 177 383 C164.5 381.92 173.17 377.17 177 376.5 Z" fill="#d6cce4" opacity="1"/>
<path d="M177 356 C175.08 352.83 176.5 340.75 177 337 C177.5 333.25 178.83 334.17 180 333.5 C181.17 332.83 182.75 332.58 184 333 C185.25 333.42 186.75 332.17 187.5 336 C188.25 339.83 190.25 352.67 188.5 356 C186.75 359.33 178.92 359.17 177 356 Z" fill="#b8b0dc" stroke="#8a80c6" stroke-width="1.5"/>
<path d="M191 356 C189.28 352.33 191 338.08 191.5 334 C192 329.92 192.75 332 194 331.5 C195.25 331 197.75 330.58 199 331 C200.25 331.42 201.03 329.83 201.5 334 C201.97 338.17 203.55 352.33 201.8 356 C200.05 359.67 192.72 359.67 191 356 Z" fill="#b8b0dc" stroke="#8a80c6" stroke-width="1.5"/>
<path d="M204 356 C202.17 352.67 203.67 339.83 204 336 C204.33 332.17 204.83 333.42 206 333 C207.17 332.58 209.67 332.83 211 333.5 C212.33 334.17 213.33 333.25 214 337 C214.67 340.75 216.67 352.83 215 356 C213.33 359.17 205.83 359.33 204 356 Z" fill="#b8b0dc" stroke="#8a80c6" stroke-width="1.5"/>
<path d="M219 356 C217.78 353.17 219.08 342.33 219.5 339 C219.92 335.67 220.58 336.42 221.5 336 C222.42 335.58 224.17 335.83 225 336.5 C225.83 337.17 226.2 336.75 226.5 340 C226.8 343.25 228.05 353.33 226.8 356 C225.55 358.67 220.22 358.83 219 356 Z" fill="#b8b0dc" stroke="#8a80c6" stroke-width="1.5"/>
<path d="M227.2 356 C226.03 353.67 227.12 344.75 227.5 342 C227.88 339.25 228.67 339.83 229.5 339.5 C230.33 339.17 231.75 339.42 232.5 340 C233.25 340.58 233.67 340.33 234 343 C234.33 345.67 235.63 353.83 234.5 356 C233.37 358.17 228.37 358.33 227.2 356 Z" fill="#b8b0dc" stroke="#8a80c6" stroke-width="1.5"/>
<path d="M235.5 334 C235.67 332.75 237 331.83 238 331.5 C239 331.17 240.67 331.33 241.5 332 C242.33 332.67 243.08 334.33 243 335.5 C242.92 336.67 242 338.42 241 339 C240 339.58 237.92 339.83 237 339 C236.08 338.17 235.33 335.25 235.5 334 Z" fill="#b8b0dc" stroke="#8a80c6" stroke-width="1.5"/>
<path d="M243 358 C241.67 356.33 243.33 350.17 244 348 C244.67 345.83 246 345.33 247 345 C248 344.67 249.17 345.17 250 346 C250.83 346.83 251.67 348 252 350 C252.33 352 253.5 356.67 252 358 C250.5 359.33 244.33 359.67 243 358 Z" fill="#b8b0dc" stroke="#8a80c6" stroke-width="1.5"/>
</g>
<rect x="177" y="327.8" width="74.4" height="54.2" fill="#000" filter="url(#tx2)" opacity="0.5"/>
<g filter="url(#bl)">
<mask id="mk_i1" maskUnits="userSpaceOnUse" x="0" y="0" width="520" height="477"><path d="M177 327 L252 327 L252 357 L235 353 L215 351 L200 350 L188 349 L177 347 Z" fill="#fff"/><path d="M177 356 C175.08 352.83 176.5 340.75 177 337 C177.5 333.25 178.83 334.17 180 333.5 C181.17 332.83 182.75 332.58 184 333 C185.25 333.42 186.75 332.17 187.5 336 C188.25 339.83 190.25 352.67 188.5 356 C186.75 359.33 178.92 359.17 177 356 Z" fill="#000" stroke="#000" stroke-width="1.2"/><path d="M191 356 C189.28 352.33 191 338.08 191.5 334 C192 329.92 192.75 332 194 331.5 C195.25 331 197.75 330.58 199 331 C200.25 331.42 201.03 329.83 201.5 334 C201.97 338.17 203.55 352.33 201.8 356 C200.05 359.67 192.72 359.67 191 356 Z" fill="#000" stroke="#000" stroke-width="1.2"/><path d="M204 356 C202.17 352.67 203.67 339.83 204 336 C204.33 332.17 204.83 333.42 206 333 C207.17 332.58 209.67 332.83 211 333.5 C212.33 334.17 213.33 333.25 214 337 C214.67 340.75 216.67 352.83 215 356 C213.33 359.17 205.83 359.33 204 356 Z" fill="#000" stroke="#000" stroke-width="1.2"/><path d="M219 356 C217.78 353.17 219.08 342.33 219.5 339 C219.92 335.67 220.58 336.42 221.5 336 C222.42 335.58 224.17 335.83 225 336.5 C225.83 337.17 226.2 336.75 226.5 340 C226.8 343.25 228.05 353.33 226.8 356 C225.55 358.67 220.22 358.83 219 356 Z" fill="#000" stroke="#000" stroke-width="1.2"/><path d="M227.2 356 C226.03 353.67 227.12 344.75 227.5 342 C227.88 339.25 228.67 339.83 229.5 339.5 C230.33 339.17 231.75 339.42 232.5 340 C233.25 340.58 233.67 340.33 234 343 C234.33 345.67 235.63 353.83 234.5 356 C233.37 358.17 228.37 358.33 227.2 356 Z" fill="#000" stroke="#000" stroke-width="1.2"/><path d="M235.5 334 C235.67 332.75 237 331.83 238 331.5 C239 331.17 240.67 331.33 241.5 332 C242.33 332.67 243.08 334.33 243 335.5 C242.92 336.67 242 338.42 241 339 C240 339.58 237.92 339.83 237 339 C236.08 338.17 235.33 335.25 235.5 334 Z" fill="#000" stroke="#000" stroke-width="1.2"/><path d="M243 358 C241.67 356.33 243.33 350.17 244 348 C244.67 345.83 246 345.33 247 345 C248 344.67 249.17 345.17 250 346 C250.83 346.83 251.67 348 252 350 C252.33 352 253.5 356.67 252 358 C250.5 359.33 244.33 359.67 243 358 Z" fill="#000" stroke="#000" stroke-width="1.2"/></mask><path d="M177 327 L252 327 L252 357 L235 353 L215 351 L200 350 L188 349 L177 347 Z" fill="#f1f7f3" opacity="1" mask="url(#mk_i1)"/>
<path d="M176 376 C177.33 375.42 181.83 378.33 184 379.5 C186.17 380.67 190.33 382.42 189 383 C187.67 383.58 178.17 384.17 176 383 C173.83 381.83 174.67 376.58 176 376 Z" fill="#e9f5f0" opacity="1"/>
</g>
<path d="M185.8 366.7 L186.29 361.54 L187.56 362.82 L189.26 361.12 L191.38 363.24 L189.68 364.94 L190.96 366.21 Z" fill="#000"/>
<path d="M217.3 366.1 L217.79 360.94 L219.06 362.22 L220.76 360.52 L222.88 362.64 L221.18 364.34 L222.46 365.61 Z" fill="#000"/>
<path d="M232.14 371.85 L234.13 368.26 L234.66 369.87 L241.32 367.71 L242 369.8 L235.34 371.96 L235.86 373.58 Z" fill="none" stroke="#000" stroke-width="1.1"/>
</g>
<rect x="177" y="327.8" width="74.4" height="54.2" fill="none" stroke="#000" stroke-width="1.7"/>
<clipPath id="ci3"><rect x="255" y="327.8" width="73.7" height="54.2"/></clipPath>
<g clip-path="url(#ci3)">
<g filter="url(#bl)">
<rect x="255" y="327.8" width="73.7" height="54.2" fill="#aa9ecf" opacity="1"/>
<path d="M255 352 L329 352 L329 369 L255 369 Z" fill="#9c8ecc" opacity="0.7"/>
<path d="M255 367 C259.17 364.75 271.67 368.92 280 369.5 C288.33 370.08 296.83 370.83 305 370.5 C313.17 370.17 325 365.42 329 367.5 C333 369.58 341.33 380.42 329 383 C316.67 385.58 267.33 385.67 255 383 C242.67 380.33 250.83 369.25 255 367 Z" fill="#d3cbe3" opacity="1"/>
<path d="M255 358 C252.98 355 255.25 344.33 255.5 340 C255.75 335.67 255.75 333.78 256.5 332 C257.25 330.22 258.67 329.7 260 329.3 C261.33 328.9 263.3 328.98 264.5 329.6 C265.7 330.22 266.78 330.43 267.2 333 C267.62 335.57 266.93 340.83 267 345 C267.07 349.17 269.6 355.83 267.6 358 C265.6 360.17 257.02 361 255 358 Z" fill="#c0b4df" stroke="#8374c2" stroke-width="1.8"/>
<path d="M270.2 358 C268.17 355 270.58 344.17 270.8 340 C271.02 335.83 270.97 334.63 271.5 333 C272.03 331.37 273.17 330.45 274 330.2 C274.83 329.95 275.83 331.5 276.5 331.5 C277.17 331.5 277.25 330.28 278 330.2 C278.75 330.12 280.33 330.03 281 331 C281.67 331.97 281.92 333.5 282 336 C282.08 338.5 281.33 342.33 281.5 346 C281.67 349.67 284.88 356 283 358 C281.12 360 272.23 361 270.2 358 Z" fill="#c0b4df" stroke="#8374c2" stroke-width="1.8"/>
<path d="M289.2 358 C286.38 355.83 289.38 348.67 289.6 345 C289.82 341.33 289.93 338.07 290.5 336 C291.07 333.93 291.75 333.27 293 332.6 C294.25 331.93 296.5 331.85 298 332 C299.5 332.15 300.92 333.42 302 333.5 C303.08 333.58 303.78 332.25 304.5 332.5 C305.22 332.75 306.05 332.92 306.3 335 C306.55 337.08 305.97 341.17 306 345 C306.03 348.83 309.3 355.83 306.5 358 C303.7 360.17 292.02 360.17 289.2 358 Z" fill="#c0b4df" stroke="#8374c2" stroke-width="1.8"/>
<path d="M309.2 358 C306.95 356 309.37 349.33 309.5 346 C309.63 342.67 309.42 339.9 310 338 C310.58 336.1 311.75 335.23 313 334.6 C314.25 333.97 316.08 333.97 317.5 334.2 C318.92 334.43 320.62 334.87 321.5 336 C322.38 337.13 322.63 338.67 322.8 341 C322.97 343.33 322.47 347.17 322.5 350 C322.53 352.83 325.22 356.67 323 358 C320.78 359.33 311.45 360 309.2 358 Z" fill="#c0b4df" stroke="#8374c2" stroke-width="1.8"/>
<path d="M283 358 C282.17 357.17 283.67 353.83 284.5 353 C285.33 352.17 287.17 352.17 288 353 C288.83 353.83 290.33 357.17 289.5 358 C288.67 358.83 283.83 358.83 283 358 Z" fill="#c0b4df" stroke="#8374c2" stroke-width="1.8"/>
<path d="M306.2 358 C305.8 356.5 306.53 350.5 307 349 C307.47 347.5 308.6 347.5 309 349 C309.4 350.5 309.87 356.5 309.4 358 C308.93 359.5 306.6 359.5 306.2 358 Z" fill="#c0b4df" stroke="#8374c2" stroke-width="1.8"/>
<path d="M322.8 358 C321.97 357.5 322.97 355.83 324 355 C325.03 354.17 328.17 352.5 329 353 C329.83 353.5 330.03 357.17 329 358 C327.97 358.83 323.63 358.5 322.8 358 Z" fill="#c0b4df" stroke="#8374c2" stroke-width="1.8"/>
</g>
<rect x="255" y="327.8" width="73.7" height="54.2" fill="#000" filter="url(#tx0)" opacity="0.5"/>
<g filter="url(#bl)">
<mask id="mk_i2" maskUnits="userSpaceOnUse" x="0" y="0" width="520" height="477"><path d="M255 327 L329 327 L329 357 L255 357 Z" fill="#fff"/><path d="M255 358 C252.98 355 255.25 344.33 255.5 340 C255.75 335.67 255.75 333.78 256.5 332 C257.25 330.22 258.67 329.7 260 329.3 C261.33 328.9 263.3 328.98 264.5 329.6 C265.7 330.22 266.78 330.43 267.2 333 C267.62 335.57 266.93 340.83 267 345 C267.07 349.17 269.6 355.83 267.6 358 C265.6 360.17 257.02 361 255 358 Z" fill="#000" stroke="#000" stroke-width="1.2"/><path d="M270.2 358 C268.17 355 270.58 344.17 270.8 340 C271.02 335.83 270.97 334.63 271.5 333 C272.03 331.37 273.17 330.45 274 330.2 C274.83 329.95 275.83 331.5 276.5 331.5 C277.17 331.5 277.25 330.28 278 330.2 C278.75 330.12 280.33 330.03 281 331 C281.67 331.97 281.92 333.5 282 336 C282.08 338.5 281.33 342.33 281.5 346 C281.67 349.67 284.88 356 283 358 C281.12 360 272.23 361 270.2 358 Z" fill="#000" stroke="#000" stroke-width="1.2"/><path d="M289.2 358 C286.38 355.83 289.38 348.67 289.6 345 C289.82 341.33 289.93 338.07 290.5 336 C291.07 333.93 291.75 333.27 293 332.6 C294.25 331.93 296.5 331.85 298 332 C299.5 332.15 300.92 333.42 302 333.5 C303.08 333.58 303.78 332.25 304.5 332.5 C305.22 332.75 306.05 332.92 306.3 335 C306.55 337.08 305.97 341.17 306 345 C306.03 348.83 309.3 355.83 306.5 358 C303.7 360.17 292.02 360.17 289.2 358 Z" fill="#000" stroke="#000" stroke-width="1.2"/><path d="M309.2 358 C306.95 356 309.37 349.33 309.5 346 C309.63 342.67 309.42 339.9 310 338 C310.58 336.1 311.75 335.23 313 334.6 C314.25 333.97 316.08 333.97 317.5 334.2 C318.92 334.43 320.62 334.87 321.5 336 C322.38 337.13 322.63 338.67 322.8 341 C322.97 343.33 322.47 347.17 322.5 350 C322.53 352.83 325.22 356.67 323 358 C320.78 359.33 311.45 360 309.2 358 Z" fill="#000" stroke="#000" stroke-width="1.2"/><path d="M283 358 C282.17 357.17 283.67 353.83 284.5 353 C285.33 352.17 287.17 352.17 288 353 C288.83 353.83 290.33 357.17 289.5 358 C288.67 358.83 283.83 358.83 283 358 Z" fill="#000" stroke="#000" stroke-width="1.2"/><path d="M306.2 358 C305.8 356.5 306.53 350.5 307 349 C307.47 347.5 308.6 347.5 309 349 C309.4 350.5 309.87 356.5 309.4 358 C308.93 359.5 306.6 359.5 306.2 358 Z" fill="#000" stroke="#000" stroke-width="1.2"/><path d="M322.8 358 C321.97 357.5 322.97 355.83 324 355 C325.03 354.17 328.17 352.5 329 353 C329.83 353.5 330.03 357.17 329 358 C327.97 358.83 323.63 358.5 322.8 358 Z" fill="#000" stroke="#000" stroke-width="1.2"/></mask><path d="M255 327 L329 327 L329 357 L255 357 Z" fill="#f1f7f3" opacity="1" mask="url(#mk_i2)"/>
</g>
<path d="M279.8 373.1 L280.29 367.94 L281.56 369.22 L283.26 367.52 L285.38 369.64 L283.68 371.34 L284.96 372.61 Z" fill="#000"/>
<path d="M321.1 366.4 L321.59 361.24 L322.86 362.52 L324.56 360.82 L326.68 362.94 L324.98 364.64 L326.26 365.91 Z" fill="#000"/>
</g>
<rect x="255" y="327.8" width="73.7" height="54.2" fill="none" stroke="#000" stroke-width="1.7"/>
<clipPath id="ci4"><rect x="332" y="327.8" width="73.6" height="54.2"/></clipPath>
<g clip-path="url(#ci4)">
<g filter="url(#bl)">
<rect x="332" y="327.8" width="73.6" height="54.2" fill="#aa9ecf" opacity="1"/>
<path d="M332 329 L406 329 L406 345 L332 345 Z" fill="#b8a6d8" opacity="0.6"/>
<path d="M332 361 C336.67 359.67 351.17 362.17 360 363 C368.83 363.83 377.33 365.83 385 366 C392.67 366.17 402.5 363 406 364 C409.5 365 418.33 370.83 406 372 C393.67 373.17 344.33 372.83 332 371 C319.67 369.17 327.33 362.33 332 361 Z" fill="#dad0ea" opacity="1"/>
<path d="M332 370 C336.67 368 347.67 370.83 360 371 C372.33 371.17 398.33 369 406 371 C413.67 373 418.33 381 406 383 C393.67 385 344.33 385.17 332 383 C319.67 380.83 327.33 372 332 370 Z" fill="#cbbfdc" opacity="1"/>
<path d="M396 367.3 L405 368.8" fill="none" stroke="#d01a60" stroke-width="2.2" stroke-linecap="round" stroke-linejoin="round" opacity="0.9"/>
<circle cx="345.6" cy="362" r="1.3" fill="#d02a70" opacity="0.8"/>
<circle cx="373.5" cy="366.5" r="1.1" fill="#d02a70" opacity="0.7"/>
<circle cx="397.5" cy="344" r="1.4" fill="#5a2a9a" opacity="0.8"/>
</g>
<rect x="332" y="327.8" width="73.6" height="54.2" fill="#000" filter="url(#tx1)" opacity="0.5"/>
<g filter="url(#bl)">
<rect x="332" y="327.5" width="74" height="1.7" fill="#f1f7f3" opacity="0.9"/>
<path d="M343.5 328 L345 335 L345.5 341" fill="none" stroke="#f1f7f3" stroke-width="1.6" stroke-linecap="round" stroke-linejoin="round" opacity="0.9"/>
<path d="M354 328 L360 334.5 L366.5 328" fill="none" stroke="#f1f7f3" stroke-width="1.6" stroke-linecap="round" stroke-linejoin="round" opacity="0.9"/>
<path d="M367.5 328 L373 335 L378.5 328" fill="none" stroke="#f1f7f3" stroke-width="1.6" stroke-linecap="round" stroke-linejoin="round" opacity="0.9"/>
<path d="M379.5 328 L384.5 336 L389.5 328" fill="none" stroke="#f1f7f3" stroke-width="1.6" stroke-linecap="round" stroke-linejoin="round" opacity="0.9"/>
<path d="M390 328 L394.5 337 L399.7 328" fill="none" stroke="#f1f7f3" stroke-width="1.6" stroke-linecap="round" stroke-linejoin="round" opacity="0.9"/>
<path d="M400 328 L403.5 336 L406 340" fill="none" stroke="#f1f7f3" stroke-width="1.6" stroke-linecap="round" stroke-linejoin="round" opacity="0.9"/>
<path d="M336 333 L337 345" fill="none" stroke="#f1f7f3" stroke-width="1.2" stroke-linecap="round" stroke-linejoin="round" opacity="0.6"/>
<path d="M391 339 C391.75 338 395.5 337.58 396.5 338.5 C397.5 339.42 397.75 343.5 397 344.5 C396.25 345.5 393 345.42 392 344.5 C391 343.58 390.25 340 391 339 Z" fill="#f1f7f3" opacity="0.95"/>
<path d="M331 375 C332.5 374.25 337.17 377.17 340 378.5 C342.83 379.83 349.5 382.25 348 383 C346.5 383.75 333.83 384.33 331 383 C328.17 381.67 329.5 375.75 331 375 Z" fill="#e9f5f0" opacity="1"/>
</g>
<path d="M362.3 352.8 L362.79 347.64 L364.06 348.92 L365.76 347.22 L367.88 349.34 L366.18 351.04 L367.46 352.31 Z" fill="#000"/>
<path d="M388.9 363.1 L389.39 357.94 L390.66 359.22 L392.36 357.52 L394.48 359.64 L392.78 361.34 L394.06 362.61 Z" fill="#000"/>
</g>
<rect x="332" y="327.8" width="73.6" height="54.2" fill="none" stroke="#000" stroke-width="1.7"/>
<clipPath id="ci5"><rect x="22" y="386.9" width="73.9" height="54.3"/></clipPath>
<g clip-path="url(#ci5)">
<g filter="url(#bl)">
<rect x="22" y="386.9" width="73.9" height="54.3" fill="#d6cee9" opacity="1"/>
<path d="M23 393 L28 396 L30 410 L31 422 L34 428" fill="none" stroke="#8676c4" stroke-width="2.2" stroke-linecap="round" stroke-linejoin="round" opacity="0.9"/>
<path d="M36 396 L40 399 L41.5 412 L42 424 L45 429 L50 428 L53 425" fill="none" stroke="#8676c4" stroke-width="2" stroke-linecap="round" stroke-linejoin="round" opacity="0.9"/>
<path d="M50 398 L53.5 400 L54 412 L54 425" fill="none" stroke="#8676c4" stroke-width="2" stroke-linecap="round" stroke-linejoin="round" opacity="0.9"/>
<path d="M62 399 L64 410 L65 428" fill="none" stroke="#8676c4" stroke-width="1.8" stroke-linecap="round" stroke-linejoin="round" opacity="0.8"/>
<path d="M67 399 L69.5 410 L71 429" fill="none" stroke="#8676c4" stroke-width="2.6" stroke-linecap="round" stroke-linejoin="round" opacity="0.9"/>
<path d="M83 399 L84.5 412 L84 429" fill="none" stroke="#8676c4" stroke-width="2.6" stroke-linecap="round" stroke-linejoin="round" opacity="0.9"/>
<path d="M89 399 L91.5 412 L92 429" fill="none" stroke="#8676c4" stroke-width="3" stroke-linecap="round" stroke-linejoin="round" opacity="0.9"/>
<path d="M22 392 C23.33 391.17 28.67 392.17 30 393 C31.33 393.83 31.33 396.17 30 397 C28.67 397.83 23.33 398.83 22 398 C20.67 397.17 20.67 392.83 22 392 Z" fill="#8676c4" opacity="0.8"/>
<path d="M37 395 C37.92 394.75 42.33 395.75 43 396.5 C43.67 397.25 41.92 399.25 41 399.5 C40.08 399.75 38.17 398.75 37.5 398 C36.83 397.25 36.08 395.25 37 395 Z" fill="#8676c4" opacity="0.8"/>
<path d="M50 397.5 C50.92 397.25 55.33 397.92 56 398.5 C56.67 399.08 54.92 400.75 54 401 C53.08 401.25 51.17 400.58 50.5 400 C49.83 399.42 49.08 397.75 50 397.5 Z" fill="#8676c4" opacity="0.8"/>
<path d="M21 428.5 L40 431.5 L60 433.5 L97 435" fill="none" stroke="#d6a8d4" stroke-width="3.2" stroke-linecap="round" stroke-linejoin="round" opacity="1"/>
</g>
<rect x="22" y="386.9" width="73.9" height="54.3" fill="#000" filter="url(#tx2)" opacity="0.5"/>
<g filter="url(#bl)">
<path d="M25 404 L26 418" fill="none" stroke="#f1f7f3" stroke-width="2.5" stroke-linecap="round" stroke-linejoin="round" opacity="0.5"/>
<path d="M31.5 393 C32.25 391 35.75 391 36.5 393 C37.25 395 36.75 403 36 405 C35.25 407 32.75 407 32 405 C31.25 403 30.75 395 31.5 393 Z" fill="#f1f7f3" opacity="0.95"/>
<path d="M43.5 396 C44.33 394.75 48.17 394.75 49 396 C49.83 397.25 49.33 402.25 48.5 403.5 C47.67 404.75 44.83 404.75 44 403.5 C43.17 402.25 42.67 397.25 43.5 396 Z" fill="#f1f7f3" opacity="0.9"/>
<path d="M21 386 L97 386 L97 399 L88 398 L80 397.5 L70 397.5 L60 396.5 L50 396 L40 395 L30 394 L21 394 Z" fill="#f1f7f3" opacity="1"/>
<path d="M26 386 C17.67 386.75 35.17 389.37 40 390.5 C44.83 391.63 50.33 392.5 55 392.8 C59.67 393.1 63.83 392.73 68 392.3 C72.17 391.87 76.33 391.25 80 390.2 C83.67 389.15 99 386.7 90 386 C81 385.3 34.33 385.25 26 386 Z" fill="#bfbadb" opacity="1"/>
<path d="M76.5 403 L80.5 403 L80.5 429 L77 429 Z" fill="#f1f7f3" opacity="0.85"/>
<path d="M92.5 398 L96 398 L96 410 L93 409 Z" fill="#f1f7f3" opacity="0.8"/>
<path d="M56.5 402 L61 402 L61 420 L57 420 Z" fill="#f1f7f3" opacity="0.5"/>
<path d="M21 432 C24.17 430.75 33.5 433.8 40 434.5 C46.5 435.2 50.5 435.7 60 436.2 C69.5 436.7 90.83 436.53 97 437.5 C103.17 438.47 109.67 441.25 97 442 C84.33 442.75 33.67 443.67 21 442 C8.33 440.33 17.83 433.25 21 432 Z" fill="#e9f5f0" opacity="1"/>
</g>
</g>
<rect x="22" y="386.9" width="73.9" height="54.3" fill="none" stroke="#000" stroke-width="1.7"/>
<clipPath id="ci6"><rect x="99.8" y="386.9" width="73.5" height="54.3"/></clipPath>
<g clip-path="url(#ci6)">
<g filter="url(#bl)">
<rect x="99.8" y="386.9" width="73.5" height="54.3" fill="#afa3d5" opacity="1"/>
<path d="M100 432 C105 430.67 117.67 433.83 130 434 C142.33 434.17 166.67 431.67 174 433 C181.33 434.33 186.33 440.5 174 442 C161.67 443.5 112.33 443.67 100 442 C87.67 440.33 95 433.33 100 432 Z" fill="#c0acd8" opacity="1"/>
</g>
<rect x="99.8" y="386.9" width="73.5" height="54.3" fill="#000" filter="url(#tx0)" opacity="0.5"/>
<g filter="url(#bl)">
<path d="M112 386.5 L174 386.5 L174 396.5 L170 395.5 L165 392.5 L160 390.5 L152 389.3 L140 390.5 L130 391.8 L125 390.3 L118 388.6 Z" fill="#f1f7f3" opacity="1"/>
</g>
<path d="M110.3 408.6 L110.79 403.44 L112.06 404.72 L113.76 403.02 L115.88 405.14 L114.18 406.84 L115.46 408.11 Z" fill="#000"/>
<path d="M115.4 422.1 L115.89 416.94 L117.16 418.22 L118.86 416.52 L120.98 418.64 L119.28 420.34 L120.56 421.61 Z" fill="#000"/>
<path d="M120.8 426.3 L122.03 428.8 L124.79 429.2 L122.8 431.15 L123.27 433.9 L120.8 432.6 L118.33 433.9 L118.8 431.15 L116.81 429.2 L119.57 428.8 Z" fill="#000"/>
<path d="M152.3 434.1 L152.79 428.94 L154.06 430.22 L155.76 428.52 L157.88 430.64 L156.18 432.34 L157.46 433.61 Z" fill="#000"/>
<path d="M170.3 428.1 L171.53 430.6 L174.29 431 L172.3 432.95 L172.77 435.7 L170.3 434.4 L167.83 435.7 L168.3 432.95 L166.31 431 L169.07 430.6 Z" fill="#000"/>
</g>
<rect x="99.8" y="386.9" width="73.5" height="54.3" fill="none" stroke="#000" stroke-width="1.7"/>
<clipPath id="ci7"><rect x="177" y="386.9" width="74.4" height="54.3"/></clipPath>
<g clip-path="url(#ci7)">
<g filter="url(#bl)">
<rect x="177" y="386.9" width="74.4" height="54.3" fill="#aaa6d6" opacity="1"/>
<path d="M186 402 L185 422" fill="none" stroke="#c4c0e4" stroke-width="2.6" stroke-linecap="round" stroke-linejoin="round" opacity="0.7"/>
<path d="M196 401 L195 422" fill="none" stroke="#c4c0e4" stroke-width="2.6" stroke-linecap="round" stroke-linejoin="round" opacity="0.7"/>
<path d="M206 402 L205.5 420" fill="none" stroke="#c4c0e4" stroke-width="2.6" stroke-linecap="round" stroke-linejoin="round" opacity="0.7"/>
<path d="M216 402 L216 418" fill="none" stroke="#c4c0e4" stroke-width="2.6" stroke-linecap="round" stroke-linejoin="round" opacity="0.7"/>
<path d="M228 404 L229 418" fill="none" stroke="#c4c0e4" stroke-width="2.6" stroke-linecap="round" stroke-linejoin="round" opacity="0.7"/>
<path d="M177 424 L200 427.5 L230 430.5 L252 431" fill="none" stroke="#d6a8d4" stroke-width="3.5" stroke-linecap="round" stroke-linejoin="round" opacity="1"/>
</g>
<rect x="177" y="386.9" width="74.4" height="54.3" fill="#000" filter="url(#tx1)" opacity="0.5"/>
<g filter="url(#bl)">
<path d="M186 386 L252 386 L252 402 L240 401 L225 399 L210 396.5 L195 393.5 L187 390 Z" fill="#d8d8ec" opacity="1"/>
<path d="M192 391.2 L205 393.6 L220 396.2 L235 398.2 L252 399.5" fill="none" stroke="#f1f7f3" stroke-width="3" stroke-linecap="round" stroke-linejoin="round" opacity="1"/>
<path d="M177 428 C180.83 426.25 191.17 430.5 200 431.5 C208.83 432.5 221.33 433.5 230 434 C238.67 434.5 248.33 433.17 252 434.5 C255.67 435.83 264.5 440.75 252 442 C239.5 443.25 189.5 444.33 177 442 C164.5 439.67 173.17 429.75 177 428 Z" fill="#e9f5f0" opacity="1"/>
</g>
<path d="M206.8 422.4 L207.29 417.24 L208.56 418.52 L210.26 416.82 L212.38 418.94 L210.68 420.64 L211.96 421.91 Z" fill="#000"/>
<path d="M219.1 421.6 L219.59 416.44 L220.86 417.72 L222.56 416.02 L224.68 418.14 L222.98 419.84 L224.26 421.11 Z" fill="#000"/>
<path d="M237.4 414.9 L237.89 409.74 L239.16 411.02 L240.86 409.32 L242.98 411.44 L241.28 413.14 L242.56 414.41 Z" fill="#000"/>
<path d="M232.96 429.96 L237.07 430.11 L235.86 431.31 L240.81 436.26 L239.26 437.81 L234.31 432.86 L233.11 434.07 Z" fill="none" stroke="#000" stroke-width="1.1"/>
</g>
<rect x="177" y="386.9" width="74.4" height="54.3" fill="none" stroke="#000" stroke-width="1.7"/>
<clipPath id="ci8"><rect x="255" y="386.9" width="73.7" height="54.3"/></clipPath>
<g clip-path="url(#ci8)">
<g filter="url(#bl)">
<rect x="255" y="386.9" width="73.7" height="54.3" fill="#a8a6d8" opacity="1"/>
<path d="M255 428 C260.83 426 277.67 429.83 290 430 C302.33 430.17 322.5 427 329 429 C335.5 431 341.33 439.83 329 442 C316.67 444.17 267.33 444.33 255 442 C242.67 439.67 249.17 430 255 428 Z" fill="#c9c2de" opacity="1"/>
<path d="M264 399 L263 426" fill="none" stroke="#c0bee2" stroke-width="2" stroke-linecap="round" stroke-linejoin="round" opacity="0.55"/>
<path d="M273 399 L272 426" fill="none" stroke="#c0bee2" stroke-width="2" stroke-linecap="round" stroke-linejoin="round" opacity="0.55"/>
<path d="M282 399 L281 426" fill="none" stroke="#c0bee2" stroke-width="2" stroke-linecap="round" stroke-linejoin="round" opacity="0.55"/>
<path d="M292 399 L291 426" fill="none" stroke="#c0bee2" stroke-width="2" stroke-linecap="round" stroke-linejoin="round" opacity="0.55"/>
<path d="M302 400 L301 426" fill="none" stroke="#c0bee2" stroke-width="2" stroke-linecap="round" stroke-linejoin="round" opacity="0.55"/>
<path d="M312 402 L311 426" fill="none" stroke="#c0bee2" stroke-width="2" stroke-linecap="round" stroke-linejoin="round" opacity="0.55"/>
</g>
<rect x="255" y="386.9" width="73.7" height="54.3" fill="#000" filter="url(#tx2)" opacity="0.5"/>
<g filter="url(#bl)">
<path d="M255 386 C267.33 384.9 316.67 384.28 329 386 C341.33 387.72 333.83 394.83 329 396.3 C324.17 397.77 308.5 395.42 300 394.8 C291.5 394.18 285.5 392.97 278 392.6 C270.5 392.23 258.83 393.7 255 392.6 C251.17 391.5 242.67 387.1 255 386 Z" fill="#e9f5f0" opacity="1"/>
<path d="M318.5 399 C319.08 397.83 321.42 397.83 322 399 C322.58 400.17 322.58 404.83 322 406 C321.42 407.17 319.08 407.17 318.5 406 C317.92 404.83 317.92 400.17 318.5 399 Z" fill="#f1f7f3" opacity="0.6"/>
</g>
<path d="M281.3 421.6 L281.79 416.44 L283.06 417.72 L284.76 416.02 L286.88 418.14 L285.18 419.84 L286.46 421.11 Z" fill="#000"/>
<path d="M309.1 419.4 L309.59 414.24 L310.86 415.52 L312.56 413.82 L314.68 415.94 L312.98 417.64 L314.26 418.91 Z" fill="#000"/>
<path d="M298.3 432.1 L298.79 426.94 L300.06 428.22 L301.76 426.52 L303.88 428.64 L302.18 430.34 L303.46 431.61 Z" fill="#000"/>
</g>
<rect x="255" y="386.9" width="73.7" height="54.3" fill="none" stroke="#000" stroke-width="1.7"/>
<clipPath id="ci9"><rect x="332" y="386.9" width="73.6" height="54.3"/></clipPath>
<g clip-path="url(#ci9)">
<g filter="url(#bl)">
<rect x="332" y="386.9" width="73.6" height="54.3" fill="#aa9fd6" opacity="1"/>
<path d="M332 424 C336.67 423.33 347.67 426.33 360 426.5 C372.33 426.67 398.33 424.25 406 425 C413.67 425.75 418.33 430.08 406 431 C393.67 431.92 344.33 431.67 332 430.5 C319.67 429.33 327.33 424.67 332 424 Z" fill="#dcd2ea" opacity="1"/>
<path d="M332 430 C336.67 428.33 347.67 431.92 360 432 C372.33 432.08 398.33 428.83 406 430.5 C413.67 432.17 418.33 440.08 406 442 C393.67 443.92 344.33 444 332 442 C319.67 440 327.33 431.67 332 430 Z" fill="#cbb6dc" opacity="1"/>
</g>
<rect x="332" y="386.9" width="73.6" height="54.3" fill="#000" filter="url(#tx0)" opacity="0.5"/>
<g filter="url(#bl)">
<path d="M343 392 L340.8 423" fill="none" stroke="#f1f7f3" stroke-width="1.3" stroke-linecap="round" stroke-linejoin="round" opacity="0.55"/>
<path d="M347.5 392 L345.7 423" fill="none" stroke="#f1f7f3" stroke-width="1.3" stroke-linecap="round" stroke-linejoin="round" opacity="0.55"/>
<path d="M352 392 L350.6 423" fill="none" stroke="#f1f7f3" stroke-width="1.3" stroke-linecap="round" stroke-linejoin="round" opacity="0.55"/>
<path d="M356.5 392 L355.4 423" fill="none" stroke="#f1f7f3" stroke-width="1.3" stroke-linecap="round" stroke-linejoin="round" opacity="0.55"/>
<path d="M361 392 L360.3 423" fill="none" stroke="#f1f7f3" stroke-width="1.3" stroke-linecap="round" stroke-linejoin="round" opacity="0.55"/>
<path d="M365.5 392 L365.1 423" fill="none" stroke="#f1f7f3" stroke-width="1.3" stroke-linecap="round" stroke-linejoin="round" opacity="0.55"/>
<path d="M370 392.2 L370 423" fill="none" stroke="#f1f7f3" stroke-width="1.3" stroke-linecap="round" stroke-linejoin="round" opacity="0.55"/>
<path d="M374.5 394.7 L374.9 423" fill="none" stroke="#f1f7f3" stroke-width="1.3" stroke-linecap="round" stroke-linejoin="round" opacity="0.55"/>
<path d="M379 397.1 L379.7 423" fill="none" stroke="#f1f7f3" stroke-width="1.3" stroke-linecap="round" stroke-linejoin="round" opacity="0.55"/>
<path d="M383.5 399.6 L384.6 423" fill="none" stroke="#f1f7f3" stroke-width="1.3" stroke-linecap="round" stroke-linejoin="round" opacity="0.55"/>
<path d="M388 402.1 L389.4 423" fill="none" stroke="#f1f7f3" stroke-width="1.3" stroke-linecap="round" stroke-linejoin="round" opacity="0.55"/>
<path d="M392.5 404.6 L394.3 423" fill="none" stroke="#f1f7f3" stroke-width="1.3" stroke-linecap="round" stroke-linejoin="round" opacity="0.55"/>
<path d="M397 407.1 L399.2 423" fill="none" stroke="#f1f7f3" stroke-width="1.3" stroke-linecap="round" stroke-linejoin="round" opacity="0.55"/>
<path d="M364 386 L388 386 L392 389.5 L398 392 L406 393.5 L406 400.5 L398 399.5 L390 396.8 L382 393.5 L373 390 Z" fill="#f1f7f3" opacity="1"/>
<path d="M331 436 C331.83 435.58 334.83 438.5 336 439.5 C337.17 440.5 338.83 441.58 338 442 C337.17 442.42 332.17 443 331 442 C329.83 441 330.17 436.42 331 436 Z" fill="#e9f5f0" opacity="1"/>
<path d="M406 435 C404.83 434.67 400.67 438.83 399 440 C397.33 441.17 394.83 441.67 396 442 C397.17 442.33 404.33 443.17 406 442 C407.67 440.83 407.17 435.33 406 435 Z" fill="#e9f5f0" opacity="1"/>
</g>
<path d="M354.6 413.3 L355.09 408.14 L356.36 409.42 L358.06 407.72 L360.18 409.84 L358.48 411.54 L359.76 412.81 Z" fill="#000"/>
<path d="M338.6 420.2 L339.09 415.04 L340.36 416.32 L342.06 414.62 L344.18 416.74 L342.48 418.44 L343.76 419.71 Z" fill="#000"/>
<path d="M362.8 426.1 L363.29 420.94 L364.56 422.22 L366.26 420.52 L368.38 422.64 L366.68 424.34 L367.96 425.61 Z" fill="#000"/>
</g>
<rect x="332" y="386.9" width="73.6" height="54.3" fill="none" stroke="#000" stroke-width="1.7"/>
<path d="M419.6 345.6 V343.6 H455.5 V345.6" fill="none" stroke="#000" stroke-width="1.15"/>
<text x="436.3" y="342.8" font-size="5.2" fill="#222" text-anchor="middle" textLength="13.5" lengthAdjust="spacingAndGlyphs" stroke="#222" stroke-width="0.12">0.038</text>
<line x1="419.6" y1="349.6" x2="419.6" y2="360.4" stroke="#000" stroke-width="0.9"/>
<rect x="414.2" y="350.4" width="12.3" height="4.6" fill="#a9bbb3"/>
<line x1="414.2" y1="352.7" x2="426.5" y2="352.7" stroke="#000" stroke-width="1.6"/>
<circle cx="419.6" cy="349.6" r="1.55" fill="#b9cbc3" stroke="#000" stroke-width="1.15"/>
<circle cx="419.6" cy="355" r="1.55" fill="#b9cbc3" stroke="#000" stroke-width="1.15"/>
<circle cx="419.6" cy="360.4" r="1.55" fill="#b9cbc3" stroke="#000" stroke-width="1.15"/>
<line x1="437.6" y1="349.6" x2="437.6" y2="360" stroke="#000" stroke-width="0.9"/>
<rect x="431.5" y="351.5" width="13.2" height="7" fill="#0b3cad"/>
<line x1="431.5" y1="355" x2="444.7" y2="355" stroke="#000" stroke-width="1.6"/>
<circle cx="437.6" cy="349.6" r="1.55" fill="#1a4fd0" stroke="#000" stroke-width="1.15"/>
<circle cx="437.6" cy="355" r="1.55" fill="#1a4fd0" stroke="#000" stroke-width="1.15"/>
<circle cx="437.6" cy="360" r="1.55" fill="#1a4fd0" stroke="#000" stroke-width="1.15"/>
<line x1="455.5" y1="354.2" x2="455.5" y2="365.3" stroke="#000" stroke-width="0.9"/>
<rect x="448.8" y="356.5" width="13.1" height="7" fill="#c80f2c"/>
<line x1="448.8" y1="360" x2="461.9" y2="360" stroke="#000" stroke-width="1.6"/>
<circle cx="455.5" cy="354.2" r="1.55" fill="#e0142c" stroke="#000" stroke-width="1.15"/>
<circle cx="455.5" cy="360" r="1.55" fill="#e0142c" stroke="#000" stroke-width="1.15"/>
<circle cx="455.5" cy="365.3" r="1.55" fill="#e0142c" stroke="#000" stroke-width="1.15"/>
<line x1="473.5" y1="349.6" x2="473.5" y2="375" stroke="#000" stroke-width="0.9"/>
<rect x="466.5" y="353.9" width="13.1" height="16" fill="#3ff21a"/>
<line x1="466.5" y1="367.3" x2="479.6" y2="367.3" stroke="#000" stroke-width="1.6"/>
<circle cx="473.5" cy="349.6" r="1.55" fill="#22c820" stroke="#000" stroke-width="1.15"/>
<circle cx="473.5" cy="365.3" r="1.55" fill="#22c820" stroke="#000" stroke-width="1.15"/>
<circle cx="473.5" cy="370.4" r="1.55" fill="#22c820" stroke="#000" stroke-width="1.15"/>
<circle cx="473.5" cy="375" r="1.55" fill="#22c820" stroke="#000" stroke-width="1.15"/>
<rect x="409.9" y="327.4" width="73.3" height="54.8" fill="none" stroke="#000" stroke-width="1.4"/>
<line x1="419.6" y1="382.2" x2="419.6" y2="384.8" stroke="#000" stroke-width="0.9"/>
<line x1="437.6" y1="382.2" x2="437.6" y2="384.8" stroke="#000" stroke-width="0.9"/>
<line x1="455.5" y1="382.2" x2="455.5" y2="384.8" stroke="#000" stroke-width="0.9"/>
<line x1="473.5" y1="382.2" x2="473.5" y2="384.8" stroke="#000" stroke-width="0.9"/>
<line x1="483.2" y1="329.2" x2="486" y2="329.2" stroke="#000" stroke-width="0.9"/>
<text x="486.6" y="331.9" font-size="7.6" fill="#333" textLength="12.8" lengthAdjust="spacingAndGlyphs" stroke="#333" stroke-width="0.12">10.0</text>
<line x1="483.2" y1="341.9" x2="486" y2="341.9" stroke="#000" stroke-width="0.9"/>
<text x="486.6" y="344.6" font-size="7.6" fill="#333" textLength="9.2" lengthAdjust="spacingAndGlyphs" stroke="#333" stroke-width="0.12">7.5</text>
<line x1="483.2" y1="354.6" x2="486" y2="354.6" stroke="#000" stroke-width="0.9"/>
<text x="486.6" y="357.3" font-size="7.6" fill="#333" textLength="9.2" lengthAdjust="spacingAndGlyphs" stroke="#333" stroke-width="0.12">5.0</text>
<line x1="483.2" y1="367.3" x2="486" y2="367.3" stroke="#000" stroke-width="0.9"/>
<text x="486.6" y="370" font-size="7.6" fill="#333" textLength="9.2" lengthAdjust="spacingAndGlyphs" stroke="#333" stroke-width="0.12">2.5</text>
<line x1="483.2" y1="380" x2="486" y2="380" stroke="#000" stroke-width="0.9"/>
<text x="486.6" y="382.7" font-size="7.6" fill="#333" textLength="9.2" lengthAdjust="spacingAndGlyphs" stroke="#333" stroke-width="0.12">0.0</text>
<text x="506.3" y="354.6" font-size="9.6" fill="#333" text-anchor="middle" textLength="20.5" lengthAdjust="spacingAndGlyphs" transform="rotate(-90 506.3 354.6)" dy="3.4" stroke="#333" stroke-width="0.35">Score</text>
<path d="M415.1 395.1 V393.3 H473.3 V395.1" fill="none" stroke="#000" stroke-width="1.15"/>
<text x="441.5" y="391.7" font-size="5.2" fill="#222" text-anchor="middle" textLength="17.2" lengthAdjust="spacingAndGlyphs" stroke="#222" stroke-width="0.12">0.0095</text>
<path d="M418.3 400.2 V398.5 H454.4 V400.2" fill="none" stroke="#000" stroke-width="1.15"/>
<text x="436.5" y="397.1" font-size="5.2" fill="#222" text-anchor="middle" textLength="10.1" lengthAdjust="spacingAndGlyphs" stroke="#222" stroke-width="0.12">0.02</text>
<line x1="419.6" y1="400.6" x2="419.6" y2="405.8" stroke="#000" stroke-width="0.9"/>
<rect x="413.9" y="402.4" width="12.6" height="4.9" fill="#a9bbb3"/>
<line x1="413.9" y1="405.8" x2="426.5" y2="405.8" stroke="#000" stroke-width="1.6"/>
<circle cx="419.6" cy="400.6" r="1.55" fill="#b9cbc3" stroke="#000" stroke-width="1.15"/>
<circle cx="419.6" cy="405.8" r="1.55" fill="#b9cbc3" stroke="#000" stroke-width="1.15"/>
<line x1="437.6" y1="401.2" x2="437.6" y2="411.5" stroke="#000" stroke-width="0.9"/>
<rect x="431.5" y="405.3" width="13.2" height="1" fill="#0b3cad"/>
<line x1="431.5" y1="405.8" x2="444.7" y2="405.8" stroke="#000" stroke-width="1.6"/>
<circle cx="437.6" cy="401.2" r="1.55" fill="#1a4fd0" stroke="#000" stroke-width="1.15"/>
<circle cx="437.6" cy="405.8" r="1.55" fill="#1a4fd0" stroke="#000" stroke-width="1.15"/>
<circle cx="437.6" cy="411.5" r="1.55" fill="#1a4fd0" stroke="#000" stroke-width="1.15"/>
<line x1="455.5" y1="405.8" x2="455.5" y2="416.5" stroke="#000" stroke-width="0.9"/>
<rect x="448.8" y="407.8" width="13.4" height="8.7" fill="#c80f2c"/>
<line x1="448.8" y1="413.5" x2="462.2" y2="413.5" stroke="#000" stroke-width="1.6"/>
<circle cx="455.5" cy="405.8" r="1.55" fill="#e0142c" stroke="#000" stroke-width="1.15"/>
<circle cx="455.5" cy="411.2" r="1.55" fill="#e0142c" stroke="#000" stroke-width="1.15"/>
<circle cx="455.5" cy="416.5" r="1.55" fill="#e0142c" stroke="#000" stroke-width="1.15"/>
<line x1="473.5" y1="405.8" x2="473.5" y2="426.5" stroke="#000" stroke-width="0.9"/>
<rect x="466.2" y="411.5" width="13.4" height="4.3" fill="#3ff21a"/>
<line x1="466.2" y1="413.5" x2="479.6" y2="413.5" stroke="#000" stroke-width="1.6"/>
<circle cx="473.5" cy="405.8" r="1.55" fill="#22c820" stroke="#000" stroke-width="1.15"/>
<circle cx="473.5" cy="412" r="1.55" fill="#22c820" stroke="#000" stroke-width="1.15"/>
<circle cx="473.5" cy="415.8" r="1.55" fill="#22c820" stroke="#000" stroke-width="1.15"/>
<circle cx="473.5" cy="426.5" r="1.55" fill="#22c820" stroke="#000" stroke-width="1.15"/>
<rect x="409.9" y="386.9" width="73.3" height="55" fill="none" stroke="#000" stroke-width="1.4"/>
<line x1="419.6" y1="441.9" x2="419.6" y2="444.5" stroke="#000" stroke-width="0.9"/>
<line x1="437.6" y1="441.9" x2="437.6" y2="444.5" stroke="#000" stroke-width="0.9"/>
<line x1="455.5" y1="441.9" x2="455.5" y2="444.5" stroke="#000" stroke-width="0.9"/>
<line x1="473.5" y1="441.9" x2="473.5" y2="444.5" stroke="#000" stroke-width="0.9"/>
<line x1="483.2" y1="389.7" x2="486" y2="389.7" stroke="#000" stroke-width="0.9"/>
<text x="486.6" y="392.4" font-size="7.6" fill="#333" textLength="12.8" lengthAdjust="spacingAndGlyphs" stroke="#333" stroke-width="0.12">10.0</text>
<line x1="483.2" y1="402.4" x2="486" y2="402.4" stroke="#000" stroke-width="0.9"/>
<text x="486.6" y="405.1" font-size="7.6" fill="#333" textLength="9.2" lengthAdjust="spacingAndGlyphs" stroke="#333" stroke-width="0.12">7.5</text>
<line x1="483.2" y1="414.6" x2="486" y2="414.6" stroke="#000" stroke-width="0.9"/>
<text x="486.6" y="417.3" font-size="7.6" fill="#333" textLength="9.2" lengthAdjust="spacingAndGlyphs" stroke="#333" stroke-width="0.12">5.0</text>
<line x1="483.2" y1="426.8" x2="486" y2="426.8" stroke="#000" stroke-width="0.9"/>
<text x="486.6" y="429.5" font-size="7.6" fill="#333" textLength="9.2" lengthAdjust="spacingAndGlyphs" stroke="#333" stroke-width="0.12">2.5</text>
<line x1="483.2" y1="439.5" x2="486" y2="439.5" stroke="#000" stroke-width="0.9"/>
<text x="486.6" y="442.2" font-size="7.6" fill="#333" textLength="9.2" lengthAdjust="spacingAndGlyphs" stroke="#333" stroke-width="0.12">0.0</text>
<text x="506.3" y="414.6" font-size="9.6" fill="#333" text-anchor="middle" textLength="20.5" lengthAdjust="spacingAndGlyphs" transform="rotate(-90 506.3 414.6)" dy="3.4" stroke="#333" stroke-width="0.35">Score</text>
<text x="419.5" y="448" font-size="7.1" fill="#222" text-anchor="end" textLength="14" lengthAdjust="spacingAndGlyphs" transform="rotate(-45 419.5 448)" stroke="#222" stroke-width="0.12">Tcon</text>
<text x="433.9" y="448.4" font-size="7.1" fill="#3a5cc4" text-anchor="end" textLength="17" lengthAdjust="spacingAndGlyphs" transform="rotate(-45 433.9 448.4)" stroke="#3a5cc4" stroke-width="0.12">Tcon+</text>
<text x="440.1" y="453.7" font-size="7.1" fill="#3a5cc4" text-anchor="end" textLength="17.5" lengthAdjust="spacingAndGlyphs" transform="rotate(-45 440.1 453.7)" stroke="#3a5cc4" stroke-width="0.12">iNKT1</text>
<text x="453.1" y="448.4" font-size="7.1" fill="#cc2a3c" text-anchor="end" textLength="17" lengthAdjust="spacingAndGlyphs" transform="rotate(-45 453.1 448.4)" stroke="#cc2a3c" stroke-width="0.12">Tcon+</text>
<text x="459.8" y="454.2" font-size="7.1" fill="#cc2a3c" text-anchor="end" textLength="17.5" lengthAdjust="spacingAndGlyphs" transform="rotate(-45 459.8 454.2)" stroke="#cc2a3c" stroke-width="0.12">iNKT2</text>
<text x="476.3" y="449.7" font-size="7.1" fill="#4ee02a" text-anchor="end" textLength="17" lengthAdjust="spacingAndGlyphs" transform="rotate(-45 476.3 449.7)" stroke="#4ee02a" stroke-width="0.12">Tcon+</text>
<text x="481.3" y="455.7" font-size="7.1" fill="#4ee02a" text-anchor="end" textLength="20.5" lengthAdjust="spacingAndGlyphs" transform="rotate(-45 481.3 455.7)" stroke="#4ee02a" stroke-width="0.12">iNKT17</text>
<rect x="0.6" y="0.6" width="518.8" height="475.8" fill="none" stroke="#000" stroke-width="1.3"/>
</svg></body></html>
